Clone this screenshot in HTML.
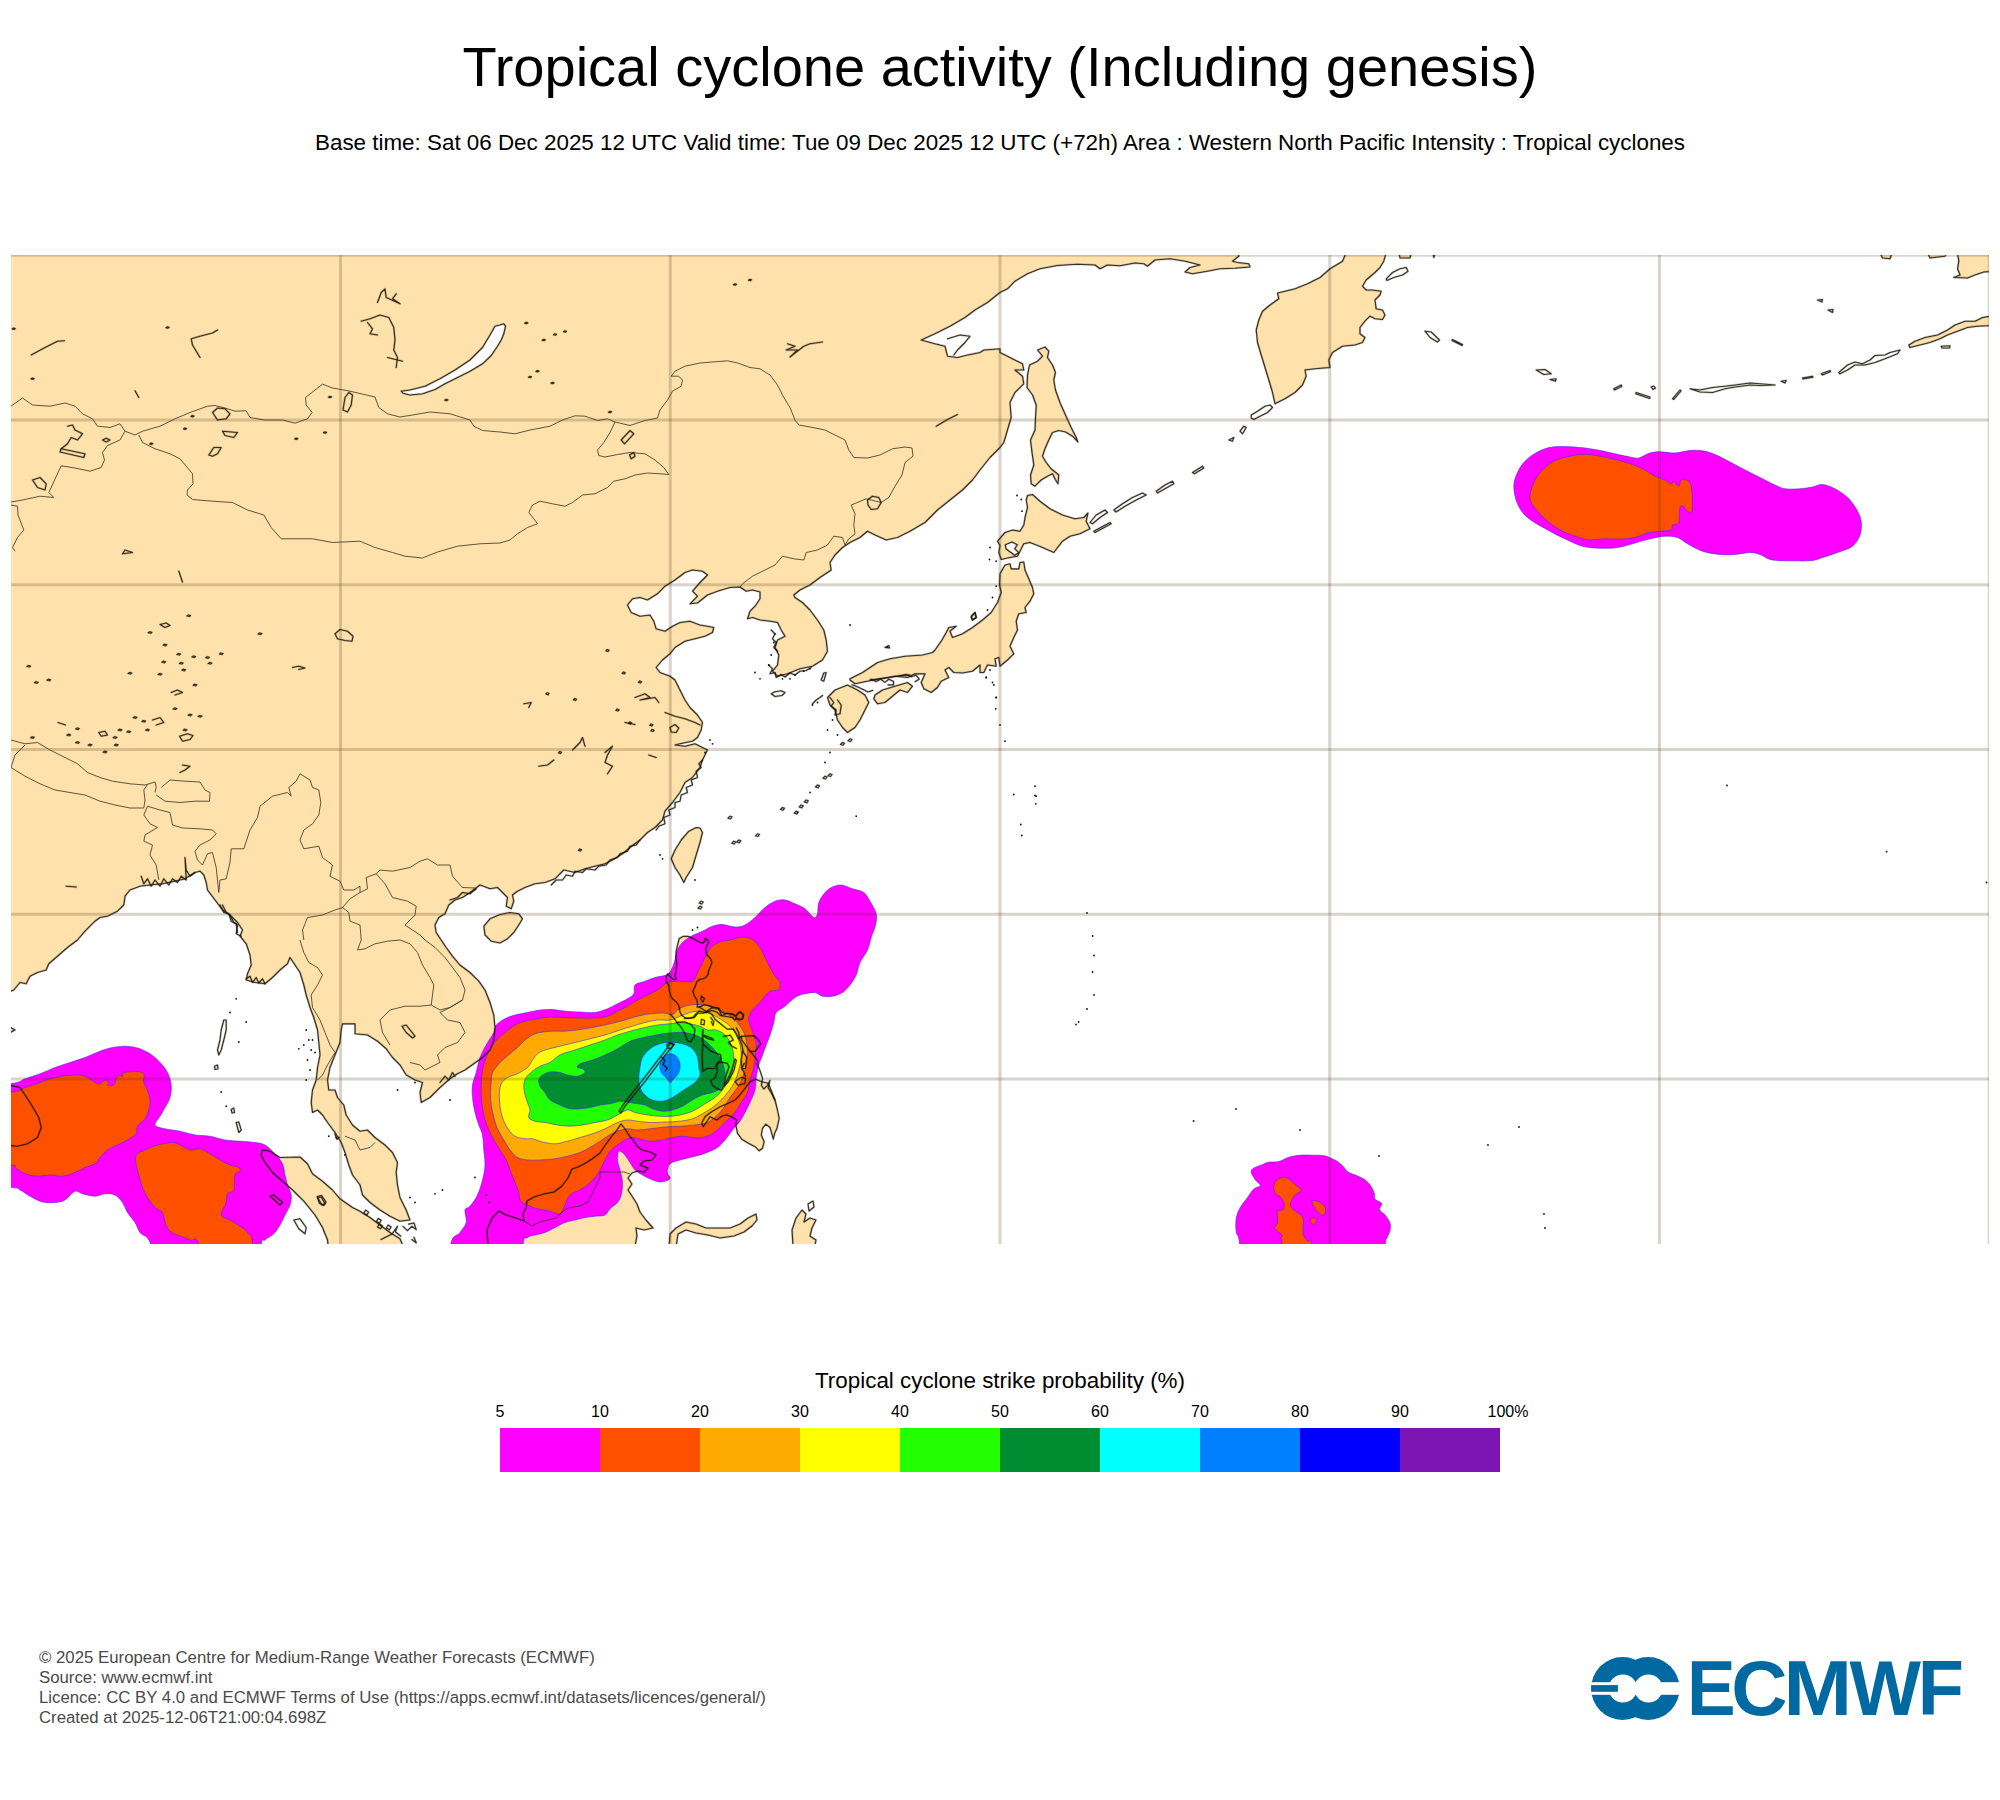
<!DOCTYPE html>
<html lang="en"><head><meta charset="utf-8"><title>Tropical cyclone activity (Including genesis)</title>
<style>
html,body{margin:0;padding:0;background:#fff}
body{width:2000px;height:1800px;overflow:hidden;font-family:"Liberation Sans",Arial,Helvetica,sans-serif}
svg{display:block}
text{font-family:"Liberation Sans",Arial,Helvetica,sans-serif}
</style></head><body>
<svg width="2000" height="1800" viewBox="0 0 2000 1800">
<rect width="2000" height="1800" fill="#fff"/>
<text x="1000" y="86" font-size="56" text-anchor="middle" fill="#000">Tropical cyclone activity (Including genesis)</text>
<text x="1000" y="150" font-size="22.4" text-anchor="middle" fill="#000">Base time: Sat 06 Dec 2025 12 UTC Valid time: Tue 09 Dec 2025 12 UTC (+72h) Area : Western North Pacific Intensity : Tropical cyclones</text>

<defs><clipPath id="mc"><rect x="11" y="255" width="1978" height="989"/></clipPath></defs>
<g clip-path="url(#mc)"><g>
<g fill="#fee1ab" stroke="none">
<path d="M-10 238 L1238.8 238 L1238.8 256.2 L1232.5 261.2 L1237.5 262.5 L1248.8 263.8 L1250 267 L1235 268.2 L1220 268.8 L1207.5 271.2 L1192.5 273.8 L1185 272 L1190 267.5 L1200 265 L1185 261.2 L1170 258.8 L1155 260 L1147.5 266.2 L1143.8 263.8 L1135 263 L1120 265.8 L1107.5 265 L1100 268.8 L1095 265 L1077.5 264.2 L1057.5 265.5 L1040 268.8 L1027.5 273.8 L1015 281.2 L1007.5 288.8 L1000 292.5 L987.5 302.5 L975 310 L965 317.5 L950 326.2 L935 333.8 L921.2 340 L935 343.8 L945 346.2 L947.5 356.2 L957.5 357.5 L967.5 355 L980 352.5 L983.8 350 L1000 348.8 L1000 352.5 L1010 357.5 L1022.5 363.8 L1023.8 370 L1015 370 L1022.5 376.2 L1023.8 383.8 L1015 392.5 L1010 402.5 L1011.2 417.5 L1007.5 430 L1003.8 442.5 L1000 447.5 L990 457.5 L980 470 L972.5 480 L962.5 490 L950 500 L937.5 510 L925 522.5 L910 531.2 L897.5 537.5 L886.2 540 L875 535 L867.5 531.2 L860 537.5 L850 542.5 L842.5 547.5 L835 555 L830 562.5 L831.2 570 L820 577.5 L810 585 L800 590 L793.8 595 L795 597.5 L802.5 602.5 L810 610 L817.5 620 L823.8 630 L826.2 640 L827.5 651.2 L822.5 660 L812.5 666.2 L800 668.8 L787.5 673.8 L777.5 676.2 L772.5 671.2 L777.5 665 L778.8 655 L775 647.5 L777.5 640 L785 636.2 L781.2 630 L777.5 622.5 L770 621.2 L760 620 L752.5 617.5 L747.5 618.8 L750 611.2 L755 606.2 L760 598.8 L760 592 L752.5 590 L746.2 591.2 L740 587 L730 587.5 L717.5 591.2 L707.5 595 L697.5 603 L690 603.8 L697.5 596.2 L692.5 591.2 L700 582.5 L707.5 575 L702.5 571.2 L692.5 570 L685 572.5 L675 580 L665 586.2 L657.5 593.8 L647.5 600 L640 597.5 L632.5 598.8 L627.5 605 L631.2 612.5 L640 616.2 L650 615 L653.8 621.2 L656.2 628.8 L665 631.2 L672.5 626.2 L680 622.5 L690 621.2 L700 625 L707.5 626.2 L713.8 627.5 L712.5 632.5 L705 636.2 L695 638.8 L685 641.2 L675 647.5 L670 653.8 L662.5 660 L656.2 667.5 L660 672.5 L670 676.2 L675 680 L680 690 L685 700 L690 707.5 L697.5 715 L702.5 722.5 L701.2 730 L697.5 737.5 L692.5 741.2 L680 743.8 L675 745 L685 746.2 L695 743.8 L702.5 747.5 L707.5 750 L702.5 760 L700 767.5 L692.5 777.5 L685 782.5 L680 792.5 L672.5 802.5 L665 811.2 L662.5 820 L655 827.5 L647.5 832.5 L640 840 L630 847.5 L622.5 853.8 L612.5 860 L605 863.8 L595 866.2 L585 868.8 L575 872.5 L563.8 870 L555 878.8 L545 882.5 L535 883.8 L525 887.5 L517.5 891.2 L512.5 895 L513.8 901.2 L511.2 908.8 L506.2 906.2 L507.5 897.5 L502.5 892.5 L497.5 887.5 L490 888.8 L480 885 L470 892.5 L462.5 897.5 L455 900 L448.8 905 L445 913.8 L438.8 917.5 L435 925 L436.2 932.5 L441.2 940 L446.2 947.5 L452.5 956.2 L460 965 L470 972.5 L478.8 981.2 L485 990 L490 1002.5 L493.8 1015 L495 1027.5 L493.8 1040 L490 1050 L482.5 1057.5 L473.8 1063.8 L465 1070 L457.5 1073.8 L450 1078.8 L440 1087.5 L430 1097.5 L421.2 1102.5 L420 1092.5 L422.5 1082.5 L415 1080 L406.2 1075 L400 1065 L392.5 1057.5 L386.2 1048.8 L377.5 1041.2 L367.5 1035 L355 1033.8 L355 1023.8 L342.5 1023.8 L341.2 1030 L340 1042.5 L335 1055 L330 1067.5 L327.5 1080 L328.8 1090 L335 1090 L337.5 1097.5 L343.8 1105 L346.2 1115 L352.5 1125 L360 1131.2 L367.5 1130 L375 1137.5 L385 1145 L392.5 1152.5 L397.5 1162.5 L396.2 1172.5 L397.5 1185 L400 1197.5 L406.2 1210 L410 1220 L400 1221.2 L390 1216.2 L380 1210 L370 1202.5 L362.5 1195 L360 1185 L352.5 1175 L348.8 1165 L345 1152.5 L341.2 1142.5 L335 1132.5 L327.5 1122.5 L322.5 1115 L317.5 1110 L312.5 1112.5 L311.2 1102.5 L312.5 1090 L316.2 1080 L317.5 1067.5 L320 1055 L318.8 1042.5 L317.5 1030 L313.8 1017.5 L310 1007.5 L306.2 995 L303.8 985 L300 972.5 L295 965 L290 957.5 L287.5 963.8 L280 970 L272.5 977.5 L265 983.8 L255 982.5 L246.2 980 L247.5 973.8 L251.2 965 L250 955 L246.2 943.8 L240 936.2 L242.5 930 L237.5 922.5 L230 915 L222.5 910 L215 900 L207.5 890 L206.2 882.5 L203.8 875 L200 871.2 L195 872.5 L185 878.8 L175 881.2 L162.5 883.8 L150 885 L140 886.2 L130 890 L125 896.2 L125 897.5 L123.8 905 L117.5 911.2 L107.5 916.2 L100 917.5 L95 921.2 L85 931.2 L77.5 940 L67.5 947.5 L57.5 956.2 L48.8 963.8 L46.2 970 L37.5 972.5 L30 976.2 L26.2 983.8 L20 982.5 L13.8 990 L-10 1000 L-10 1015 L15 1030 L-10 1042.5Z"/>
<path d="M1352.5 238 L1342.5 261.2 L1330 268.8 L1320 277.5 L1307.5 283.8 L1295 288.8 L1285 291.2 L1277.5 293 L1278.8 298.8 L1270 305 L1262.5 311.2 L1258.8 320 L1256.2 330 L1257.5 342.5 L1261.2 355 L1265 367.5 L1268.8 380 L1272.5 392.5 L1275 403.8 L1285 398.8 L1295 392.5 L1302.5 385 L1306.2 376.2 L1305 370 L1315 368.8 L1330 367.5 L1328.8 360 L1332.5 352.5 L1342.5 346.2 L1355 345 L1362.5 342.5 L1365 337.5 L1360 333.8 L1360 327.5 L1365 321.2 L1370 316.2 L1375 318.8 L1382.5 319.5 L1385 315 L1382.5 310 L1376.2 308.8 L1375 300 L1380 295 L1381.2 291.2 L1372.5 290 L1366.2 290 L1362.5 286.2 L1366.2 280 L1375 272.5 L1380 267.5 L1383.8 261.2 L1390 238Z"/>
<path d="M1396.2 238 L1400 258 L1410 258 L1415 238Z"/>
<path d="M1430 238 L1433.8 257.5 L1440 238Z"/>
<path d="M1037.5 350 L1045 347 L1048.8 351.2 L1047.5 357.5 L1052.5 365 L1055.5 372.5 L1053.8 380 L1055.5 390 L1060 402.5 L1065.5 415 L1071.2 427.5 L1076.2 437.5 L1078 442 L1072.5 436.2 L1065.5 432 L1058.8 430.5 L1052.5 432.5 L1048.8 440 L1045 448.8 L1042.5 456.2 L1046.2 462.5 L1051.2 468.8 L1058.8 475 L1058 483.8 L1055.5 480 L1052.5 473.8 L1047.5 476.2 L1041.2 480 L1035 486.2 L1031.2 483.8 L1030.5 475 L1033.8 465 L1032 452.5 L1030.5 440 L1035 430 L1035.5 417.5 L1036.2 405 L1032.5 395 L1027 387.5 L1027.5 375 L1029.5 365 L1037.5 361.2 L1042.5 356.2Z"/>
<path d="M1027.5 495.5 L1032.5 494.5 L1040 501.2 L1050 508.8 L1062.5 515 L1075 518.8 L1083.8 517.5 L1088 513 L1086.2 521.2 L1090 528.8 L1080 533.8 L1070 536.2 L1062.5 541.2 L1053.8 552.5 L1042.5 547.5 L1030 542.5 L1023.8 543.8 L1020 551.2 L1017.5 556.2 L1010 557.5 L1001.2 559.5 L998.8 552.5 L1000 545.5 L997.5 541.2 L1005 532.5 L1012.5 530 L1020 531.2 L1023.8 525 L1025 517.5 L1027.5 507.5 L1026.2 500Z"/>
<path d="M1005 565 L1010 563.8 L1011.2 568.8 L1018.8 568.8 L1020 562.5 L1023.8 562 L1025 570 L1028.8 578.8 L1032.5 587.5 L1033.8 593.8 L1030 601.2 L1025 607.5 L1026.2 612.5 L1018.8 613.8 L1016.2 621.2 L1017.5 630 L1013.8 637.5 L1010 646.2 L1013.8 653.8 L1007.5 660 L1000 666.2 L998.8 657.5 L995 658.8 L996.2 666.2 L987.5 665 L983.8 672.5 L980 672.5 L980 665 L972.5 671.2 L962.5 673 L953.8 672.5 L948.8 667.5 L945 670 L948.8 677.5 L941.2 681.2 L937.5 687.5 L931.2 692.5 L923.8 688.8 L921.2 682.5 L925 673.8 L915 673.8 L907.5 677.5 L895 676.2 L880 678.8 L867.5 681.2 L855 683.8 L850 680 L850 678.8 L862.5 672.5 L877.5 662.5 L890 658.8 L905 656.2 L922.5 655 L932.5 652.5 L935 650 L941.2 641.2 L946.2 632.5 L948.8 627.5 L956.2 626.2 L950 631.2 L952.5 637.5 L962.5 633.8 L972.5 627.5 L982.5 620 L991.2 612.5 L997.5 602.5 L1001.2 592.5 L999.5 585 L1000 573.8Z"/>
<path d="M827.5 697.5 L835 690 L847.5 685 L857.5 690 L865 695 L868.8 702.5 L865 710 L860 720 L855 727.5 L847.5 732.5 L842.5 727.5 L837.5 720 L835 710 L830 705Z"/>
<path d="M875 695 L882.5 690 L895 686.2 L907.5 682.5 L912.5 686.2 L907.5 692.5 L900 690 L892.5 696.2 L885 702.5 L877.5 703.8 L873.8 698.8Z"/>
<path d="M700 828 L702.5 832.5 L700 842.5 L696.2 855 L692.5 867.5 L686.2 877.5 L683.8 882.5 L680 875 L675 867.5 L671.2 858.8 L675 850 L681.2 840 L688.8 831.2 L696.2 827.5Z"/>
<path d="M483.8 926.2 L490 918.8 L500 914.5 L510 912.5 L518.8 913.8 L522.5 918.8 L518.8 925 L513.8 932.5 L507.5 938.8 L500 943 L491.2 941.2 L485 935Z"/>
<path d="M262.5 1150 L270 1151.2 L280 1157.5 L300 1157 L307.5 1163.8 L312.5 1173.8 L322.5 1181.2 L332.5 1190 L340 1198.8 L352.5 1207.5 L360 1211.2 L370 1217.5 L380 1225 L390 1232.5 L400 1238.8 L410 1262 L330 1262 L327.5 1240 L322.5 1227.5 L315 1215 L303.8 1201.2 L292.5 1190 L282.5 1181.2 L272.5 1172.5 L265 1162.5 L261.2 1155Z"/>
<path d="M-10 1081.2 L20 1087.5 L30 1102.5 L38.8 1117.5 L41.2 1127.5 L37.5 1137.5 L27.5 1143.8 L17.5 1146.2 L-10 1143.8Z"/>
<path d="M1872.5 238 L1882.5 258 L1890 258.8 L1897.5 238Z"/>
<path d="M1920 238 L1930 258 L1945 256.2 L1955 238 L1958.8 261.2 L1957.5 268.8 L1960 275 L1953.8 277.5 L1967.5 278 L1975 275 L1983.8 272 L2010 270 L2010 238Z"/>
<path d="M2010 312.5 L1982.5 317.5 L1975 321.2 L1965 321.2 L1955 325 L1947.5 330 L1937.5 335 L1925 337.5 L1915 341.2 L1908.8 345 L1910 347.5 L1920 345 L1930 342.5 L1940 338.8 L1947.5 335 L1957.5 331.2 L1967.5 327.5 L1977.5 326.2 L2010 325Z"/>
<path d="M489 1262 L487 1230 L492 1218 L499 1211 L506 1215 L516 1218 L524 1221 L523 1214 L526 1208 L527 1201 L534 1197 L544 1194 L554 1192 L562 1186 L568 1178 L572 1169 L578 1167 L584 1164 L592 1159 L600 1153 L606 1144 L612 1136 L617 1130 L621 1124 L625 1129 L628 1134 L633 1140 L637 1146 L642 1150 L650 1152 L656 1155 L652 1160 L644 1161 L640 1165 L648 1168 L644 1172 L638 1171 L632 1173 L628 1178 L632 1184 L628 1190 L632 1196 L637 1204 L640 1212 L646 1220 L653 1228 L644 1230 L636 1228 L637 1236 L632 1262Z"/>
<path d="M668 1262 L670 1234 L676 1228 L686 1222 L696 1224 L706 1228 L720 1228 L730 1228 L740 1224 L748 1218 L756 1214 L757 1220 L752 1226 L744 1232 L734 1236 L720 1238 L708 1235 L696 1233 L686 1230 L678 1234 L674 1262Z"/>
<path d="M794 1262 L792 1230 L796 1218 L802 1210 L806 1214 L804 1222 L810 1218 L816 1220 L812 1228 L810 1236 L816 1240 L812 1262Z"/>
<path d="M679.2 938.4 L683.2 936.4 L688 936.4 L692.8 938.4 L697.6 941.2 L702.4 943.2 L705.6 940.8 L704.8 938.4 L708 940 L708.8 942.4 L706.4 946.4 L705.6 951.2 L707.2 955.2 L710.4 958.4 L712 962.4 L710.4 966.4 L708.8 970.4 L708 974.4 L705.6 977.6 L703.2 978.8 L700 979.2 L696.8 981.6 L695.2 986.4 L692.8 991.2 L694.4 996 L696.8 1000 L697.6 1004 L697.2 1007.2 L700.8 1006.4 L704 1004.8 L708.8 1005.6 L713.6 1007.2 L718.4 1008 L721.6 1012 L724.8 1013.6 L728.8 1013.6 L732.8 1014.4 L736 1016 L738.4 1012.8 L740.8 1012 L743.2 1015.2 L742.4 1019.2 L739.2 1020 L736.8 1018.4 L734.4 1020 L732.8 1017.6 L728 1016.8 L723.2 1016 L720 1015.2 L716.8 1012 L712 1010.4 L708.8 1011.2 L706.4 1012.8 L702.4 1012 L699.2 1011.2 L696 1013.6 L692.8 1017.6 L688 1018.4 L684.8 1017.6 L681.6 1015.2 L680 1012 L679.2 1007.2 L678.4 1004.8 L676 1001.6 L672.8 999.2 L670.8 996 L669.2 990.4 L668.8 985.6 L666.4 981.6 L666 976.8 L668 973.6 L669.6 976 L672.8 979.2 L676 979.2 L675.2 975.2 L676 970.4 L676.8 964 L676 957.6 L676 952 L677.6 944.8Z"/>
<path d="M670.8 1043.2 L674.5 1044.2 L666.2 1053.8 L657.5 1065 L646.2 1080 L635 1093.8 L625 1106.2 L620.8 1113 L619.2 1110.8 L623.8 1103.8 L633 1092 L644.2 1078 L655.5 1063.2 L664.2 1052Z"/>
<path d="M755.8 1079.2 L761.7 1081.7 L768.3 1083.3 L771.7 1091.7 L775 1100 L777.5 1110 L779.2 1118.3 L777 1128.3 L774.7 1133.3 L773.3 1139.2 L771.7 1133.3 L770 1127.5 L765.8 1124.2 L762.5 1128.3 L761.3 1135 L764.2 1141.7 L762.5 1148.3 L759.2 1150.8 L755 1146.7 L748.3 1143.3 L741.7 1139.2 L737.5 1133.3 L735.8 1125 L736.7 1120 L731.7 1116.7 L726.7 1115 L722.5 1115.8 L716.7 1120 L710 1116.7 L706.7 1121.7 L703.3 1126.7 L701.7 1123.3 L705 1116.7 L711.7 1111.7 L720 1106.7 L728.3 1103.3 L735 1100 L740 1095 L745 1088.3 L750 1081.7Z"/>
</g>
<g fill="#ffffff" stroke="none">
<path d="M401.2 391.2 L410 390 L425 386.2 L440 378.8 L455 370 L470 360 L482.5 347.5 L490 335 L495 326.2 L500 325 L503.8 323.8 L505.5 326.2 L503.8 333.8 L501.2 340 L497.5 346.2 L491.2 355.5 L482.5 363.8 L470 371.2 L457.5 377.5 L445 383.8 L435 389.5 L422.5 393.8 L410 395 L403 393.2Z"/>
<path d="M1005.3 544.7 L1012 542 L1017.3 544.7 L1014.7 548.7 L1018.7 552.7 L1014.7 555.3 L1009.3 551.3 L1006 548.7Z"/>
</g>
<g stroke="#4a20ff" stroke-opacity="0.6" stroke-width="1" stroke-linejoin="round">
<path d="M1513.8 486.2 C1513.8 481.0 1515.6 476.7 1517.5 472.5 C1519.4 468.3 1521.7 464.6 1525 461.2 C1528.3 457.8 1532.9 454.4 1537.5 452 C1542.1 449.6 1546.2 447.8 1552.5 447 C1558.8 446.2 1567.9 446.6 1575 447 C1582.1 447.4 1588.3 448.4 1595 449.5 C1601.7 450.6 1609.2 452.6 1615 453.8 C1620.8 455.1 1626.0 456.3 1630 457 C1634.0 457.7 1635.5 458.7 1638.8 458 C1642.1 457.3 1646.5 454.0 1650 453 C1653.5 452.0 1655.8 451.8 1660 451.8 C1664.2 451.8 1670.0 453.2 1675 453 C1680.0 452.8 1685.4 450.9 1690 450.5 C1694.6 450.1 1698.3 450.1 1702.5 450.8 C1706.7 451.5 1710.4 452.6 1715 454.5 C1719.6 456.4 1725.0 459.4 1730 462 C1735.0 464.6 1740.0 467.4 1745 470 C1750.0 472.6 1755.0 475.0 1760 477.5 C1765.0 480.0 1770.8 483.1 1775 485 C1779.2 486.9 1780.8 488.2 1785 488.8 C1789.2 489.4 1795.4 489.1 1800 488.8 C1804.6 488.5 1808.8 487.7 1812.5 487 C1816.2 486.3 1818.8 484.2 1822.5 484.5 C1826.2 484.8 1830.8 486.6 1835 488.8 C1839.2 491.0 1844.0 494.2 1847.5 497.5 C1851.0 500.8 1853.9 504.9 1856.2 508.8 C1858.5 512.8 1860.6 516.8 1861.2 521.2 C1861.8 525.6 1861.5 530.8 1860 535 C1858.5 539.2 1856.2 543.3 1852.5 546.2 C1848.8 549.1 1842.5 550.6 1837.5 552.5 C1832.5 554.4 1826.7 556.2 1822.5 557.5 C1818.3 558.8 1817.1 560.0 1812.5 560.5 C1807.9 561.0 1801.7 560.9 1795 560.8 C1788.3 560.7 1778.3 561.0 1772.5 560 C1766.7 559.0 1763.8 555.8 1760 554.5 C1756.2 553.2 1754.2 552.5 1750 552.5 C1745.8 552.5 1740.0 554.2 1735 554.5 C1730.0 554.8 1725.4 555.0 1720 554.5 C1714.6 554.0 1707.9 553.0 1702.5 551.2 C1697.1 549.4 1691.7 546.1 1687.5 543.8 C1683.3 541.5 1681.2 538.8 1677.5 537.5 C1673.8 536.2 1669.6 536.0 1665 536.2 C1660.4 536.4 1655.0 537.7 1650 538.8 C1645.0 539.9 1640.4 541.5 1635 543 C1629.6 544.5 1623.3 546.6 1617.5 547.5 C1611.7 548.4 1605.8 548.4 1600 548.2 C1594.2 548.0 1587.9 547.6 1582.5 546.2 C1577.1 544.8 1572.9 542.5 1567.5 540 C1562.1 537.5 1556.7 535.0 1550 531.2 C1543.3 527.5 1532.9 522.1 1527.5 517.5 C1522.1 512.9 1519.8 509.0 1517.5 503.8 C1515.2 498.6 1513.8 491.4 1513.8 486.2Z" fill="#ff00ff"/>
<path d="M1530 495 C1530.4 491.7 1531.9 486.5 1533.8 482.5 C1535.7 478.5 1537.9 474.8 1541.2 471.2 C1544.5 467.6 1549.0 463.7 1553.8 461.2 C1558.6 458.7 1564.8 457.4 1570 456.2 C1575.2 455.0 1580.0 454.2 1585 454.2 C1590.0 454.2 1594.6 455.2 1600 456.2 C1605.4 457.2 1612.1 458.6 1617.5 460 C1622.9 461.4 1627.9 462.8 1632.5 464.5 C1637.1 466.2 1641.2 468.1 1645 470 C1648.8 471.9 1651.7 474.5 1655 476.2 C1658.3 477.9 1662.3 478.7 1665 480 C1667.7 481.3 1669.7 483.6 1671.2 483.8 C1672.7 484.0 1672.5 480.8 1673.8 481.2 C1675.1 481.6 1677.6 486.4 1678.8 486.2 C1680.0 486.0 1680.0 481.0 1681.2 480 C1682.4 479.0 1684.5 479.0 1686.2 480 C1687.9 481.0 1690.2 481.0 1691.2 486.2 C1692.2 491.4 1692.8 507.2 1692 511.2 C1691.2 515.2 1687.6 510.8 1686.2 510 C1684.8 509.2 1684.8 506.6 1683.8 506.2 C1682.8 505.8 1680.8 504.8 1680 507.5 C1679.2 510.2 1680.0 519.6 1678.8 522.5 C1677.5 525.4 1673.8 523.8 1672.5 525 C1671.2 526.2 1673.3 529.0 1671.2 530 C1669.1 531.0 1664.0 530.7 1660 531.2 C1656.0 531.7 1651.7 532.0 1647.5 533 C1643.3 534.0 1639.6 536.5 1635 537.5 C1630.4 538.5 1625.0 539.0 1620 539.2 C1615.0 539.4 1610.0 538.7 1605 538.8 C1600.0 538.9 1595.0 540.4 1590 540 C1585.0 539.6 1580.0 537.9 1575 536.2 C1570.0 534.5 1564.6 532.5 1560 530 C1555.4 527.5 1551.2 524.3 1547.5 521.2 C1543.8 518.1 1540.2 514.3 1537.5 511.2 C1534.8 508.1 1532.5 505.2 1531.2 502.5 C1530.0 499.8 1529.6 498.3 1530 495Z" fill="#ff5000"/>
<path d="M-50 1097.5 C-50.0 1081.2 -60.0 1089.8 -50 1087.5 C-40.0 1085.2 -2.5 1085.2 10 1083.8 C22.5 1082.3 20.0 1080.5 25 1078.8 C30.0 1077.1 35.0 1075.7 40 1073.8 C45.0 1071.9 50.0 1069.4 55 1067.5 C60.0 1065.6 65.0 1064.2 70 1062.5 C75.0 1060.8 80.0 1059.4 85 1057.5 C90.0 1055.6 95.4 1052.9 100 1051.2 C104.6 1049.5 108.3 1048.3 112.5 1047.5 C116.7 1046.7 120.8 1046.1 125 1046.2 C129.2 1046.3 133.3 1046.7 137.5 1048 C141.7 1049.3 146.2 1051.4 150 1053.8 C153.8 1056.2 157.1 1059.4 160 1062.5 C162.9 1065.6 165.6 1068.8 167.5 1072.5 C169.4 1076.2 170.8 1080.8 171.2 1085 C171.6 1089.2 171.0 1093.8 170 1097.5 C169.0 1101.2 166.7 1104.4 165 1107.5 C163.3 1110.6 161.7 1113.3 160 1116.2 C158.3 1119.1 154.2 1122.9 155 1125 C155.8 1127.1 160.8 1127.8 165 1128.8 C169.2 1129.8 175.0 1130.2 180 1131.2 C185.0 1132.2 190.0 1134.2 195 1135 C200.0 1135.8 205.0 1135.4 210 1136.2 C215.0 1137.0 220.0 1139.2 225 1140 C230.0 1140.8 235.0 1140.8 240 1141.2 C245.0 1141.6 250.8 1141.9 255 1142.5 C259.2 1143.1 261.7 1143.1 265 1145 C268.3 1146.9 272.1 1150.7 275 1153.8 C277.9 1156.9 280.8 1160.3 282.5 1163.8 C284.2 1167.3 284.2 1171.5 285 1175 C285.8 1178.5 286.5 1181.7 287.5 1185 C288.5 1188.3 290.8 1191.7 291.2 1195 C291.6 1198.3 291.0 1201.7 290 1205 C289.0 1208.3 286.7 1211.7 285 1215 C283.3 1218.3 281.9 1221.9 280 1225 C278.1 1228.1 276.3 1231.3 273.8 1233.8 C271.3 1236.3 267.1 1237.7 265 1240 C262.9 1242.3 262.0 1235.0 261.2 1247.5 C260.4 1260.0 278.1 1303.8 260 1315 C241.9 1326.2 170.6 1326.2 152.5 1315 C134.4 1303.8 153.3 1261.2 151.2 1247.5 C149.1 1233.8 142.7 1236.7 140 1232.5 C137.3 1228.3 137.1 1225.8 135 1222.5 C132.9 1219.2 129.6 1215.8 127.5 1212.5 C125.4 1209.2 124.6 1205.4 122.5 1202.5 C120.4 1199.6 117.9 1196.5 115 1195 C112.1 1193.5 108.3 1193.6 105 1193.8 C101.7 1194.0 98.8 1196.2 95 1196.2 C91.2 1196.2 85.8 1194.6 82.5 1193.8 C79.2 1193.0 77.9 1190.2 75 1191.2 C72.1 1192.2 68.3 1198.1 65 1200 C61.7 1201.9 58.8 1202.2 55 1202.5 C51.2 1202.8 46.7 1203.0 42.5 1202 C38.3 1201.0 33.8 1198.2 30 1196.2 C26.2 1194.2 23.3 1191.5 20 1190 C16.7 1188.5 21.7 1188.3 10 1187.5 C-1.7 1186.7 -40.0 1200.0 -50 1185 C-60.0 1170.0 -50.0 1113.8 -50 1097.5Z" fill="#ff00ff"/>
<path d="M-50 1105 C-50.0 1094.2 -60.0 1099.6 -50 1097.5 C-40.0 1095.4 -2.5 1094.2 10 1092.5 C22.5 1090.8 20.0 1089.2 25 1087.5 C30.0 1085.8 35.8 1084.0 40 1082.5 C44.2 1081.0 46.2 1079.8 50 1078.8 C53.8 1077.8 58.3 1076.8 62.5 1076.2 C66.7 1075.6 71.2 1075.0 75 1075 C78.8 1075.0 81.7 1075.0 85 1076.2 C88.3 1077.5 92.5 1081.2 95 1082.5 C97.5 1083.8 98.3 1084.2 100 1083.8 C101.7 1083.4 103.5 1080.2 105 1080 C106.5 1079.8 108.4 1081.7 108.8 1082.5 C109.2 1083.3 106.7 1084.6 107.5 1085 C108.3 1085.4 112.1 1086.5 113.8 1085 C115.5 1083.5 116.0 1077.7 117.5 1076.2 C119.0 1074.7 121.5 1076.8 122.5 1076.2 C123.5 1075.6 120.5 1073.1 123.8 1072.5 C127.1 1071.9 139.2 1070.8 142.5 1072.5 C145.8 1074.2 143.0 1079.6 143.8 1082.5 C144.6 1085.4 146.5 1087.1 147.5 1090 C148.5 1092.9 149.8 1096.7 150 1100 C150.2 1103.3 149.6 1106.9 148.8 1110 C148.0 1113.1 146.9 1116.1 145 1118.8 C143.1 1121.5 139.0 1123.7 137.5 1126.2 C136.0 1128.7 137.9 1131.5 136.2 1133.8 C134.5 1136.1 130.6 1138.1 127.5 1140 C124.4 1141.9 120.8 1143.3 117.5 1145 C114.2 1146.7 110.4 1147.9 107.5 1150 C104.6 1152.1 102.1 1155.2 100 1157.5 C97.9 1159.8 97.5 1162.1 95 1163.8 C92.5 1165.5 88.3 1166.0 85 1167.5 C81.7 1169.0 78.8 1171.0 75 1172.5 C71.2 1174.0 66.7 1175.8 62.5 1176.2 C58.3 1176.6 54.2 1175.0 50 1175 C45.8 1175.0 41.7 1176.4 37.5 1176.2 C33.3 1176.0 28.8 1175.2 25 1173.8 C21.2 1172.3 17.5 1169.0 15 1167.5 C12.5 1166.0 20.8 1165.8 10 1165 C-0.8 1164.2 -40.0 1172.5 -50 1162.5 C-60.0 1152.5 -50.0 1115.8 -50 1105Z" fill="#ff5000"/>
<path d="M136.2 1155 C137.7 1152.5 141.4 1151.7 145 1150 C148.6 1148.3 152.9 1146.2 157.5 1145 C162.1 1143.8 168.8 1142.5 172.5 1142.5 C176.2 1142.5 177.1 1143.8 180 1145 C182.9 1146.2 186.7 1149.4 190 1150 C193.3 1150.6 196.7 1148.2 200 1148.8 C203.3 1149.4 206.7 1151.9 210 1153.8 C213.3 1155.7 216.7 1158.1 220 1160 C223.3 1161.9 226.9 1163.8 230 1165 C233.1 1166.2 237.1 1166.5 238.8 1167.5 C240.5 1168.5 240.6 1170.0 240 1171.2 C239.4 1172.5 236.0 1171.9 235 1175 C234.0 1178.1 235.1 1186.9 233.8 1190 C232.6 1193.1 228.8 1191.7 227.5 1193.8 C226.2 1195.9 227.2 1199.0 226.2 1202.5 C225.1 1206.0 220.6 1212.1 221.2 1215 C221.8 1217.9 226.9 1218.1 230 1220 C233.1 1221.9 237.1 1224.1 240 1226.2 C242.9 1228.3 245.3 1229.2 247.5 1232.5 C249.7 1235.8 251.8 1232.5 253 1246.2 C254.2 1260.0 264.2 1303.5 255 1315 C245.8 1326.5 206.9 1326.5 197.5 1315 C188.1 1303.5 200.1 1258.7 198.8 1246.2 C197.6 1233.7 193.1 1241.7 190 1240 C186.9 1238.3 183.3 1237.7 180 1236.2 C176.7 1234.7 172.5 1233.5 170 1231.2 C167.5 1228.9 166.2 1225.6 165 1222.5 C163.8 1219.4 164.2 1215.0 162.5 1212.5 C160.8 1210.0 157.5 1210.0 155 1207.5 C152.5 1205.0 149.6 1200.8 147.5 1197.5 C145.4 1194.2 143.9 1191.2 142.5 1187.5 C141.1 1183.8 139.9 1178.8 138.8 1175 C137.8 1171.2 136.6 1168.3 136.2 1165 C135.8 1161.7 134.7 1157.5 136.2 1155Z" fill="#ff5000"/>
<path d="M841.2 885 C844.5 885.3 848.7 887.5 852.5 888.8 C856.3 890.0 860.9 890.4 863.8 892.5 C866.7 894.6 867.9 897.7 870 901.2 C872.1 904.8 875.3 909.8 876.2 913.8 C877.1 917.8 876.3 921.0 875.5 925 C874.7 929.0 872.5 933.3 871.2 937.5 C869.9 941.7 869.4 945.8 867.5 950 C865.6 954.2 861.9 958.3 860 962.5 C858.1 966.7 857.9 971.2 856.2 975 C854.5 978.8 852.3 982.1 850 985 C847.7 987.9 845.4 990.6 842.5 992.5 C839.6 994.4 835.8 995.6 832.5 996.2 C829.2 996.8 825.4 996.8 822.5 996.2 C819.6 995.6 817.9 992.9 815 992.5 C812.1 992.1 808.3 993.0 805 993.8 C801.7 994.6 798.3 995.4 795 997.5 C791.7 999.6 788.1 1003.7 785 1006.2 C781.9 1008.7 778.1 1009.8 776.2 1012.5 C774.3 1015.2 774.8 1018.8 773.8 1022.5 C772.8 1026.2 771.3 1031.2 770 1035 C768.7 1038.8 767.5 1041.7 766.2 1045 C765.0 1048.3 763.7 1051.7 762.5 1055 C761.3 1058.3 759.8 1061.2 758.8 1065 C757.8 1068.8 756.8 1073.3 756.2 1077.5 C755.6 1081.7 756.0 1085.8 755 1090 C754.0 1094.2 751.7 1098.8 750 1102.5 C748.3 1106.2 746.7 1109.4 745 1112.5 C743.3 1115.6 742.1 1118.3 740 1121.2 C737.9 1124.1 735.0 1126.9 732.5 1130 C730.0 1133.1 727.5 1137.1 725 1140 C722.5 1142.9 720.0 1145.6 717.5 1147.5 C715.0 1149.4 712.9 1150.0 710 1151.2 C707.1 1152.5 703.3 1154.0 700 1155 C696.7 1156.0 693.3 1156.7 690 1157.5 C686.7 1158.3 683.3 1159.0 680 1160 C676.7 1161.0 672.1 1161.7 670 1163.8 C667.9 1165.9 667.5 1170.0 667.5 1172.5 C667.5 1175.0 671.2 1177.2 670 1178.8 C668.8 1180.4 663.3 1182.0 660 1182 C656.7 1182.0 652.9 1180.0 650 1178.8 C647.1 1177.6 645.0 1176.5 642.5 1175 C640.0 1173.5 637.1 1172.1 635 1170 C632.9 1167.9 631.9 1165.2 630 1162.5 C628.1 1159.8 625.7 1155.7 623.8 1153.8 C621.9 1151.9 619.8 1150.2 618.8 1151.2 C617.8 1152.2 617.3 1156.9 617.5 1160 C617.7 1163.1 619.2 1166.2 620 1170 C620.8 1173.8 622.3 1178.3 622.5 1182.5 C622.7 1186.7 622.0 1191.7 621.2 1195 C620.4 1198.3 619.4 1200.2 617.5 1202.5 C615.6 1204.8 612.1 1206.7 610 1208.8 C607.9 1210.9 607.5 1213.8 605 1215 C602.5 1216.2 598.3 1215.8 595 1216.2 C591.7 1216.6 588.3 1216.9 585 1217.5 C581.7 1218.1 578.3 1219.2 575 1220 C571.7 1220.8 568.3 1221.2 565 1222.5 C561.7 1223.8 558.3 1225.8 555 1227.5 C551.7 1229.2 548.3 1231.2 545 1232.5 C541.7 1233.8 537.9 1234.2 535 1235 C532.1 1235.8 529.5 1235.6 527.5 1237.5 C525.5 1239.4 523.8 1234.1 523 1246.2 C522.2 1258.3 534.7 1299.4 522.5 1310 C510.3 1320.6 462.0 1320.6 450 1310 C438.0 1299.4 448.8 1259.1 450.5 1246.2 C452.2 1233.3 457.4 1236.5 460 1232.5 C462.6 1228.5 465.4 1226.2 466.2 1222.5 C467.0 1218.8 464.4 1212.7 465 1210 C465.6 1207.3 467.9 1208.7 470 1206.2 C472.1 1203.7 475.4 1199.4 477.5 1195 C479.6 1190.6 481.2 1185.0 482.5 1180 C483.8 1175.0 484.8 1170.0 485 1165 C485.2 1160.0 484.2 1155.0 483.8 1150 C483.4 1145.0 483.3 1139.2 482.5 1135 C481.7 1130.8 480.1 1128.8 478.8 1125 C477.6 1121.2 476.1 1117.1 475 1112.5 C473.9 1107.9 472.9 1102.1 472.5 1097.5 C472.1 1092.9 471.9 1089.2 472.5 1085 C473.1 1080.8 474.9 1077.1 476.2 1072.5 C477.4 1067.9 478.3 1062.1 480 1057.5 C481.7 1052.9 483.9 1049.2 486.2 1045 C488.5 1040.8 492.1 1035.8 493.8 1032.5 C495.5 1029.2 494.3 1027.3 496.2 1025 C498.1 1022.7 501.9 1020.5 505 1018.8 C508.1 1017.1 511.2 1016.0 515 1015 C518.8 1014.0 523.3 1013.3 527.5 1012.5 C531.7 1011.7 535.8 1010.5 540 1010 C544.2 1009.5 548.3 1009.3 552.5 1009.5 C556.7 1009.7 560.4 1010.8 565 1011.2 C569.6 1011.6 575.0 1011.8 580 1012 C585.0 1012.2 590.4 1013.0 595 1012.5 C599.6 1012.0 603.8 1010.2 607.5 1008.8 C611.2 1007.3 614.2 1005.5 617.5 1003.8 C620.8 1002.1 624.8 1000.5 627.5 998.8 C630.2 997.1 632.5 996.1 633.8 993.8 C635.0 991.5 633.1 987.1 635 985 C636.9 982.9 641.7 982.5 645 981.2 C648.3 980.0 651.5 978.5 655 977.5 C658.5 976.5 663.5 976.2 666.2 975 C668.9 973.8 669.7 972.5 671.2 970 C672.7 967.5 674.0 963.3 675 960 C676.0 956.7 676.2 952.9 677.5 950 C678.8 947.1 680.2 944.8 682.5 942.5 C684.8 940.2 687.9 938.1 691.2 936.2 C694.5 934.3 699.0 932.9 702.5 931.2 C706.0 929.5 709.2 927.3 712.5 926.2 C715.8 925.1 718.8 924.4 722.5 924.5 C726.2 924.6 731.2 926.9 735 927 C738.8 927.1 741.7 926.6 745 925 C748.3 923.4 751.7 920.4 755 917.5 C758.3 914.6 761.7 910.2 765 907.5 C768.3 904.8 771.7 902.5 775 901.2 C778.3 900.0 781.7 899.6 785 900 C788.3 900.4 791.7 902.3 795 903.8 C798.3 905.3 801.9 906.5 805 908.8 C808.1 911.1 811.7 916.7 813.8 917.5 C815.9 918.3 816.7 916.3 817.5 913.8 C818.3 911.3 817.5 906.0 818.8 902.5 C820.0 899.0 822.7 895.1 825 892.5 C827.3 889.9 829.8 888.2 832.5 887 C835.2 885.8 837.9 884.7 841.2 885Z" fill="#ff00ff"/>
<path d="M730 940 C733.3 939.3 738.8 937.1 742.5 937 C746.2 936.9 749.6 937.8 752.5 939.5 C755.4 941.2 757.9 944.5 760 947.5 C762.1 950.5 763.3 954.2 765 957.5 C766.7 960.8 768.1 964.2 770 967.5 C771.9 970.8 774.5 975.0 776.2 977.5 C777.9 980.0 779.6 980.4 780 982.5 C780.4 984.6 780.5 988.5 778.8 990 C777.1 991.5 772.3 990.2 770 991.2 C767.7 992.2 766.7 994.3 765 996.2 C763.3 998.1 762.1 1000.2 760 1002.5 C757.9 1004.8 754.4 1007.5 752.5 1010 C750.6 1012.5 749.2 1015.0 748.8 1017.5 C748.4 1020.0 749.2 1022.1 750 1025 C750.8 1027.9 752.8 1031.7 753.8 1035 C754.8 1038.3 756.0 1041.2 756.2 1045 C756.4 1048.8 755.4 1053.8 755 1057.5 C754.6 1061.2 754.6 1063.8 753.8 1067.5 C753.0 1071.2 751.0 1075.8 750 1080 C749.0 1084.2 749.0 1088.8 747.5 1092.5 C746.0 1096.2 743.3 1099.2 741.2 1102.5 C739.1 1105.8 737.3 1109.6 735 1112.5 C732.7 1115.4 730.0 1117.5 727.5 1120 C725.0 1122.5 722.5 1125.2 720 1127.5 C717.5 1129.8 715.4 1132.1 712.5 1133.8 C709.6 1135.5 705.8 1136.9 702.5 1137.5 C699.2 1138.1 695.8 1137.7 692.5 1137.5 C689.2 1137.3 685.8 1136.2 682.5 1136.2 C679.2 1136.2 675.8 1136.9 672.5 1137.5 C669.2 1138.1 665.8 1139.4 662.5 1140 C659.2 1140.6 655.8 1141.2 652.5 1141.2 C649.2 1141.2 645.8 1140.6 642.5 1140 C639.2 1139.4 635.4 1137.5 632.5 1137.5 C629.6 1137.5 627.5 1138.8 625 1140 C622.5 1141.2 620.0 1143.1 617.5 1145 C615.0 1146.9 612.1 1148.7 610 1151.2 C607.9 1153.7 606.7 1156.9 605 1160 C603.3 1163.1 601.7 1167.1 600 1170 C598.3 1172.9 597.1 1175.0 595 1177.5 C592.9 1180.0 590.0 1182.9 587.5 1185 C585.0 1187.1 582.9 1188.3 580 1190 C577.1 1191.7 572.5 1192.5 570 1195 C567.5 1197.5 566.7 1201.9 565 1205 C563.3 1208.1 562.5 1212.8 560 1213.8 C557.5 1214.8 553.8 1212.0 550 1211.2 C546.2 1210.4 540.8 1209.6 537.5 1208.8 C534.2 1208.0 532.1 1207.0 530 1206.2 C527.9 1205.4 526.7 1204.8 525 1203.8 C523.3 1202.8 521.0 1201.9 520 1200 C519.0 1198.1 519.6 1195.4 518.8 1192.5 C518.0 1189.6 516.5 1186.2 515 1182.5 C513.5 1178.8 511.5 1173.8 510 1170 C508.5 1166.2 507.9 1163.3 506.2 1160 C504.5 1156.7 502.1 1153.3 500 1150 C497.9 1146.7 495.7 1143.3 493.8 1140 C491.9 1136.7 490.3 1133.3 488.8 1130 C487.3 1126.7 486.1 1123.8 485 1120 C483.9 1116.2 483.1 1111.7 482.5 1107.5 C481.9 1103.3 481.4 1099.2 481.2 1095 C481.0 1090.8 481.0 1086.7 481.2 1082.5 C481.4 1078.3 481.7 1074.2 482.5 1070 C483.3 1065.8 484.8 1061.2 486.2 1057.5 C487.6 1053.8 489.3 1050.6 491.2 1047.5 C493.1 1044.4 495.2 1041.3 497.5 1038.8 C499.8 1036.3 502.1 1034.8 505 1032.5 C507.9 1030.2 511.7 1026.9 515 1025 C518.3 1023.1 521.2 1022.2 525 1021.2 C528.8 1020.2 533.3 1019.5 537.5 1018.8 C541.7 1018.1 545.4 1017.2 550 1017 C554.6 1016.8 560.0 1017.3 565 1017.5 C570.0 1017.7 575.0 1017.9 580 1018 C585.0 1018.1 590.4 1018.3 595 1018 C599.6 1017.7 603.8 1017.3 607.5 1016.2 C611.2 1015.1 614.2 1012.9 617.5 1011.2 C620.8 1009.5 624.2 1008.1 627.5 1006.2 C630.8 1004.3 634.2 1001.9 637.5 1000 C640.8 998.1 644.2 996.7 647.5 995 C650.8 993.3 654.2 992.1 657.5 990 C660.8 987.9 663.8 984.0 667.5 982.5 C671.2 981.0 675.8 981.4 680 981.2 C684.2 981.0 689.6 982.7 692.5 981.2 C695.4 979.8 695.8 975.6 697.5 972.5 C699.2 969.4 700.8 965.8 702.5 962.5 C704.2 959.2 705.6 955.4 707.5 952.5 C709.4 949.6 711.3 946.9 713.8 945 C716.3 943.1 719.8 942.0 722.5 941.2 C725.2 940.4 726.7 940.7 730 940Z" fill="#ff5000"/>
<path d="M491.2 1082.5 C491.5 1079.2 491.0 1075.8 492.5 1072.5 C494.0 1069.2 497.1 1065.6 500 1062.5 C502.9 1059.4 506.9 1056.5 510 1053.8 C513.1 1051.1 516.3 1048.5 518.8 1046.2 C521.3 1043.9 522.3 1042.1 525 1040 C527.7 1037.9 530.8 1035.3 535 1033.8 C539.2 1032.3 545.0 1031.6 550 1031.2 C555.0 1030.8 560.0 1031.5 565 1031.2 C570.0 1030.9 575.0 1030.2 580 1029.5 C585.0 1028.8 590.0 1028.0 595 1027 C600.0 1026.0 605.0 1025.0 610 1023.8 C615.0 1022.6 620.4 1021.3 625 1020 C629.6 1018.7 633.3 1017.2 637.5 1016.2 C641.7 1015.2 645.8 1014.3 650 1013.8 C654.2 1013.3 658.8 1012.9 662.5 1013 C666.2 1013.1 670.0 1015.0 672.5 1014.5 C675.0 1014.0 675.4 1011.4 677.5 1010 C679.6 1008.6 682.1 1007.1 685 1006.2 C687.9 1005.3 691.7 1004.7 695 1004.5 C698.3 1004.3 701.7 1004.3 705 1005 C708.3 1005.7 711.7 1007.5 715 1008.8 C718.3 1010.0 721.7 1010.6 725 1012.5 C728.3 1014.4 732.1 1017.1 735 1020 C737.9 1022.9 740.6 1026.7 742.5 1030 C744.4 1033.3 745.4 1036.2 746.2 1040 C747.0 1043.8 747.5 1048.3 747.5 1052.5 C747.5 1056.7 747.0 1060.8 746.2 1065 C745.4 1069.2 744.0 1073.8 742.5 1077.5 C741.0 1081.2 739.6 1084.2 737.5 1087.5 C735.4 1090.8 732.3 1094.2 730 1097.5 C727.7 1100.8 725.9 1104.6 723.8 1107.5 C721.7 1110.4 720.2 1112.5 717.5 1115 C714.8 1117.5 711.2 1120.8 707.5 1122.5 C703.8 1124.2 699.6 1124.4 695 1125 C690.4 1125.6 685.0 1125.9 680 1126.2 C675.0 1126.5 670.0 1126.6 665 1127 C660.0 1127.4 654.6 1128.3 650 1128.8 C645.4 1129.3 641.2 1130.0 637.5 1130 C633.8 1130.0 630.8 1128.6 627.5 1128.8 C624.2 1129.0 620.8 1130.0 617.5 1131.2 C614.2 1132.4 610.4 1134.5 607.5 1136.2 C604.6 1137.9 602.9 1139.3 600 1141.2 C597.1 1143.1 593.3 1145.6 590 1147.5 C586.7 1149.4 583.8 1151.0 580 1152.5 C576.2 1154.0 571.7 1155.2 567.5 1156.2 C563.3 1157.2 559.6 1158.2 555 1158.8 C550.4 1159.4 544.6 1159.8 540 1160 C535.4 1160.2 531.2 1160.4 527.5 1160 C523.8 1159.6 520.4 1159.2 517.5 1157.5 C514.6 1155.8 512.3 1152.9 510 1150 C507.7 1147.1 505.9 1143.5 503.8 1140 C501.7 1136.5 499.2 1132.5 497.5 1128.8 C495.8 1125.0 494.9 1121.5 493.8 1117.5 C492.8 1113.5 491.8 1109.2 491.2 1105 C490.6 1100.8 490.5 1096.2 490.5 1092.5 C490.5 1088.8 490.9 1085.8 491.2 1082.5Z" fill="#ffaa00"/>
<path d="M499.5 1092.5 C499.8 1089.8 499.9 1086.3 501.2 1083.8 C502.5 1081.3 504.8 1079.2 507.5 1077.5 C510.2 1075.8 514.2 1075.5 517.5 1073.8 C520.8 1072.1 525.0 1069.8 527.5 1067.5 C530.0 1065.2 530.8 1062.3 532.5 1060 C534.2 1057.7 535.4 1055.5 537.5 1053.8 C539.6 1052.1 541.2 1051.3 545 1050 C548.8 1048.7 555.0 1047.5 560 1046.2 C565.0 1045.0 570.0 1043.7 575 1042.5 C580.0 1041.3 585.0 1040.0 590 1038.8 C595.0 1037.5 600.0 1036.5 605 1035 C610.0 1033.5 615.4 1031.5 620 1030 C624.6 1028.5 628.3 1027.5 632.5 1026.2 C636.7 1025.0 640.8 1023.5 645 1022.5 C649.2 1021.5 653.3 1020.4 657.5 1020 C661.7 1019.6 666.2 1020.6 670 1020 C673.8 1019.4 676.7 1017.5 680 1016.2 C683.3 1015.0 686.7 1013.3 690 1012.5 C693.3 1011.7 696.7 1011.0 700 1011.2 C703.3 1011.4 706.7 1012.5 710 1013.8 C713.3 1015.1 716.7 1016.7 720 1018.8 C723.3 1020.9 727.3 1023.5 730 1026.2 C732.7 1028.9 734.5 1031.9 736.2 1035 C737.9 1038.1 739.2 1041.2 740 1045 C740.8 1048.8 741.4 1053.3 741.2 1057.5 C741.0 1061.7 739.8 1066.0 738.8 1070 C737.8 1074.0 736.7 1077.7 735 1081.2 C733.3 1084.7 731.1 1088.1 728.8 1091.2 C726.5 1094.3 723.9 1097.3 721.2 1100 C718.5 1102.7 715.6 1105.2 712.5 1107.5 C709.4 1109.8 705.8 1111.9 702.5 1113.8 C699.2 1115.7 696.2 1117.6 692.5 1118.8 C688.8 1120.0 684.6 1120.7 680 1121.2 C675.4 1121.7 670.0 1121.8 665 1122 C660.0 1122.2 654.6 1122.6 650 1122.5 C645.4 1122.4 641.2 1121.6 637.5 1121.2 C633.8 1120.8 630.8 1119.8 627.5 1120 C624.2 1120.2 621.2 1121.0 617.5 1122.5 C613.8 1124.0 609.2 1126.9 605 1128.8 C600.8 1130.7 596.7 1132.3 592.5 1133.8 C588.3 1135.2 584.2 1136.3 580 1137.5 C575.8 1138.7 571.7 1140.2 567.5 1141.2 C563.3 1142.2 559.2 1143.7 555 1143.8 C550.8 1143.9 546.2 1142.8 542.5 1142 C538.8 1141.2 535.4 1139.3 532.5 1138.8 C529.6 1138.3 527.9 1139.2 525 1138.8 C522.1 1138.4 517.7 1137.7 515 1136.2 C512.3 1134.7 510.7 1132.5 508.8 1130 C506.9 1127.5 505.2 1124.5 503.8 1121.2 C502.4 1117.9 501.2 1113.5 500.5 1110 C499.8 1106.5 499.7 1102.9 499.5 1100 C499.3 1097.1 499.2 1095.2 499.5 1092.5Z" fill="#ffff00"/>
<path d="M523.8 1085 C524.0 1082.1 524.8 1079.8 526.2 1077.5 C527.7 1075.2 530.2 1073.1 532.5 1071.2 C534.8 1069.3 537.1 1067.7 540 1066.2 C542.9 1064.8 547.3 1064.0 550 1062.5 C552.7 1061.0 554.1 1059.0 556.2 1057.5 C558.3 1056.0 559.4 1055.0 562.5 1053.8 C565.6 1052.5 570.4 1051.5 575 1050 C579.6 1048.5 585.0 1046.7 590 1045 C595.0 1043.3 600.4 1041.7 605 1040 C609.6 1038.3 613.3 1036.5 617.5 1035 C621.7 1033.5 625.4 1032.5 630 1031.2 C634.6 1030.0 640.4 1028.5 645 1027.5 C649.6 1026.5 653.3 1025.6 657.5 1025 C661.7 1024.4 666.2 1024.2 670 1023.8 C673.8 1023.4 676.7 1022.5 680 1022.5 C683.3 1022.5 686.7 1023.2 690 1023.8 C693.3 1024.4 697.1 1025.2 700 1026.2 C702.9 1027.2 704.8 1029.4 707.5 1030 C710.2 1030.6 713.3 1029.2 716.2 1030 C719.1 1030.8 722.5 1032.5 725 1035 C727.5 1037.5 729.7 1041.2 731.2 1045 C732.7 1048.8 733.6 1053.3 733.8 1057.5 C734.0 1061.7 733.3 1066.2 732.5 1070 C731.7 1073.8 730.5 1076.7 728.8 1080 C727.1 1083.3 724.8 1087.1 722.5 1090 C720.2 1092.9 717.9 1095.2 715 1097.5 C712.1 1099.8 708.3 1101.7 705 1103.8 C701.7 1105.9 698.3 1108.3 695 1110 C691.7 1111.7 688.8 1112.8 685 1113.8 C681.2 1114.8 676.7 1115.8 672.5 1116.2 C668.3 1116.6 664.2 1116.4 660 1116.2 C655.8 1116.0 651.7 1115.6 647.5 1115 C643.3 1114.4 638.3 1113.3 635 1112.5 C631.7 1111.7 630.4 1109.6 627.5 1110 C624.6 1110.4 620.8 1113.3 617.5 1115 C614.2 1116.7 611.2 1118.8 607.5 1120 C603.8 1121.2 599.2 1121.7 595 1122.5 C590.8 1123.3 586.7 1124.4 582.5 1125 C578.3 1125.6 574.2 1126.2 570 1126.2 C565.8 1126.2 561.7 1125.6 557.5 1125 C553.3 1124.4 548.8 1123.1 545 1122.5 C541.2 1121.9 537.7 1122.0 535 1121.2 C532.3 1120.4 529.6 1119.4 528.8 1117.5 C528.0 1115.6 530.2 1112.5 530 1110 C529.8 1107.5 528.3 1105.0 527.5 1102.5 C526.7 1100.0 525.6 1097.9 525 1095 C524.4 1092.1 523.6 1087.9 523.8 1085Z" fill="#22ff00"/>
<path d="M538.8 1080 C539.2 1078.1 540.6 1076.3 542.5 1075 C544.4 1073.7 547.1 1072.4 550 1072 C552.9 1071.6 557.1 1072.0 560 1072.5 C562.9 1073.0 564.6 1074.4 567.5 1075 C570.4 1075.6 574.6 1076.6 577.5 1076.2 C580.4 1075.8 584.2 1073.7 585 1072.5 C585.8 1071.3 583.8 1069.6 582.5 1068.8 C581.2 1068.0 577.9 1068.3 577.5 1067.5 C577.1 1066.7 577.5 1065.0 580 1063.8 C582.5 1062.5 588.3 1061.5 592.5 1060 C596.7 1058.5 600.8 1056.9 605 1055 C609.2 1053.1 613.8 1050.9 617.5 1048.8 C621.2 1046.7 624.2 1044.2 627.5 1042.5 C630.8 1040.8 633.8 1039.8 637.5 1038.8 C641.2 1037.8 645.8 1037.0 650 1036.2 C654.2 1035.4 658.3 1034.4 662.5 1033.8 C666.7 1033.2 671.2 1032.7 675 1032.5 C678.8 1032.3 681.7 1032.1 685 1032.5 C688.3 1032.9 692.1 1034.0 695 1035 C697.9 1036.0 700.0 1037.1 702.5 1038.8 C705.0 1040.5 707.5 1042.5 710 1045 C712.5 1047.5 715.4 1050.9 717.5 1053.8 C719.6 1056.7 721.2 1059.4 722.5 1062.5 C723.8 1065.6 724.8 1069.2 725 1072.5 C725.2 1075.8 724.6 1079.8 723.8 1082.5 C723.0 1085.2 721.9 1087.1 720 1088.8 C718.1 1090.5 715.4 1091.5 712.5 1092.5 C709.6 1093.5 705.8 1093.8 702.5 1095 C699.2 1096.2 695.8 1098.1 692.5 1100 C689.2 1101.9 685.8 1104.5 682.5 1106.2 C679.2 1107.9 675.8 1109.2 672.5 1110 C669.2 1110.8 665.8 1111.4 662.5 1111.2 C659.2 1111.0 655.4 1109.8 652.5 1108.8 C649.6 1107.8 647.5 1105.8 645 1105 C642.5 1104.2 640.0 1104.2 637.5 1103.8 C635.0 1103.4 632.9 1102.9 630 1102.5 C627.1 1102.1 623.3 1101.0 620 1101.2 C616.7 1101.4 613.3 1103.2 610 1103.8 C606.7 1104.4 603.3 1104.4 600 1105 C596.7 1105.6 593.3 1106.9 590 1107.5 C586.7 1108.1 583.3 1108.6 580 1108.8 C576.7 1109.0 573.3 1109.4 570 1108.8 C566.7 1108.2 563.3 1106.5 560 1105 C556.7 1103.5 552.5 1102.1 550 1100 C547.5 1097.9 546.7 1094.8 545 1092.5 C543.3 1090.2 541.0 1088.3 540 1086.2 C539.0 1084.1 538.4 1081.9 538.8 1080Z" fill="#008c30"/>
<path d="M660 1043.8 C663.3 1042.8 666.2 1042.5 670 1042.5 C673.8 1042.5 678.8 1042.8 682.5 1043.8 C686.2 1044.8 690.0 1046.5 692.5 1048.8 C695.0 1051.1 696.5 1054.4 697.5 1057.5 C698.5 1060.6 698.4 1064.6 698.8 1067.5 C699.2 1070.4 700.6 1072.5 700 1075 C699.4 1077.5 697.1 1080.4 695 1082.5 C692.9 1084.6 690.0 1085.8 687.5 1087.5 C685.0 1089.2 682.5 1090.8 680 1092.5 C677.5 1094.2 675.4 1096.0 672.5 1097.5 C669.6 1099.0 665.8 1100.8 662.5 1101.2 C659.2 1101.6 655.4 1101.0 652.5 1100 C649.6 1099.0 647.1 1097.1 645 1095 C642.9 1092.9 641.0 1090.4 640 1087.5 C639.0 1084.6 638.8 1080.8 638.8 1077.5 C638.8 1074.2 639.4 1070.8 640 1067.5 C640.6 1064.2 640.8 1060.6 642.5 1057.5 C644.2 1054.4 647.1 1051.1 650 1048.8 C652.9 1046.5 656.7 1044.8 660 1043.8Z" fill="#00ffff"/>
<path d="M663.8 1057.5 C665.5 1055.6 667.9 1054.0 670 1053.8 C672.1 1053.6 674.5 1054.5 676.2 1056.2 C677.9 1057.9 679.6 1061.1 680 1063.8 C680.4 1066.5 679.8 1070.0 678.8 1072.5 C677.8 1075.0 675.3 1077.1 673.8 1078.8 C672.3 1080.5 671.3 1082.7 670 1082.5 C668.7 1082.3 667.7 1079.2 666.2 1077.5 C664.7 1075.8 662.2 1074.6 661.2 1072.5 C660.2 1070.4 659.6 1067.5 660 1065 C660.4 1062.5 662.1 1059.4 663.8 1057.5Z" fill="#0080ff"/>
<path d="M1240 1310 C1215.8 1299.4 1240.3 1259.2 1239.7 1246.2 C1239.1 1233.2 1236.8 1236.6 1236.2 1232 C1235.6 1227.4 1235.6 1222.5 1236.2 1218.5 C1236.8 1214.5 1238.1 1211.5 1240 1208 C1241.9 1204.5 1245.2 1200.6 1247.5 1197.5 C1249.8 1194.4 1251.4 1191.2 1253.5 1189.2 C1255.6 1187.2 1260.0 1187.1 1260.2 1185.5 C1260.5 1183.9 1256.5 1181.8 1255 1179.5 C1253.5 1177.2 1251.5 1173.9 1251.2 1172 C1251.0 1170.1 1251.9 1169.3 1253.5 1168.2 C1255.1 1167.1 1258.5 1166.2 1261 1165.2 C1263.5 1164.2 1265.5 1162.8 1268.5 1162.2 C1271.5 1161.6 1275.5 1162.4 1279 1161.5 C1282.5 1160.6 1286.0 1158.0 1289.5 1157 C1293.0 1156.0 1296.2 1155.5 1300 1155.2 C1303.8 1154.9 1308.2 1155.2 1312 1155.2 C1315.8 1155.2 1319.5 1155.1 1322.5 1155.5 C1325.5 1155.9 1327.5 1156.7 1330 1157.7 C1332.5 1158.7 1335.2 1160.0 1337.5 1161.5 C1339.8 1163.0 1341.8 1165.0 1343.5 1166.7 C1345.2 1168.5 1345.8 1170.5 1348 1172 C1350.2 1173.5 1354.2 1174.5 1357 1175.7 C1359.8 1177.0 1362.2 1177.9 1364.5 1179.5 C1366.8 1181.1 1368.9 1183.2 1370.5 1185.5 C1372.1 1187.8 1373.5 1190.8 1374.2 1193 C1375.0 1195.2 1373.8 1197.2 1375 1199 C1376.2 1200.8 1381.0 1201.8 1381.7 1203.5 C1382.5 1205.2 1378.9 1207.5 1379.5 1209.5 C1380.1 1211.5 1383.8 1213.2 1385.5 1215.5 C1387.2 1217.8 1389.2 1220.5 1390 1223 C1390.8 1225.5 1390.5 1228.0 1390 1230.5 C1389.5 1233.0 1387.8 1235.4 1387 1238 C1386.2 1240.6 1385.8 1234.2 1385.5 1246.2 C1385.2 1258.2 1409.5 1299.4 1385.2 1310 C1361.0 1320.6 1264.2 1320.6 1240 1310Z" fill="#ff00ff"/>
<path d="M1282.7 1310 C1277.6 1299.4 1282.4 1258.2 1282 1246.2 C1281.6 1234.2 1280.5 1239.9 1280.5 1238 C1280.5 1236.1 1283.0 1236.6 1282 1235 C1281.0 1233.4 1275.2 1230.2 1274.5 1228.2 C1273.8 1226.2 1277.0 1225.9 1277.5 1223 C1278.0 1220.1 1276.6 1213.1 1277.5 1211 C1278.4 1208.9 1281.6 1211.5 1282.7 1210.2 C1283.8 1209.0 1284.6 1205.6 1284.2 1203.5 C1283.8 1201.4 1282.0 1199.2 1280.5 1197.5 C1279.0 1195.8 1276.3 1194.8 1275.2 1193 C1274.1 1191.2 1273.6 1189.0 1273.7 1187 C1273.8 1185.0 1274.5 1182.6 1276 1181 C1277.5 1179.4 1280.5 1177.5 1282.7 1177.2 C1285.0 1177.0 1287.4 1178.2 1289.5 1179.5 C1291.6 1180.8 1293.5 1182.8 1295.5 1184.7 C1297.5 1186.6 1301.5 1189.1 1301.5 1190.7 C1301.5 1192.3 1297.2 1192.6 1295.5 1194.5 C1293.8 1196.4 1291.8 1199.9 1291 1202 C1290.2 1204.1 1290.1 1205.6 1291 1207.2 C1291.9 1208.8 1294.2 1210.0 1296.2 1211.7 C1298.2 1213.5 1301.9 1214.8 1303 1217.7 C1304.1 1220.6 1302.9 1226.0 1303 1229 C1303.1 1232.0 1303.0 1233.7 1303.7 1235.7 C1304.5 1237.7 1306.2 1239.2 1307.5 1241 C1308.8 1242.8 1310.8 1234.7 1311.7 1246.2 C1312.6 1257.7 1317.5 1299.4 1312.7 1310 C1307.9 1320.6 1287.8 1320.6 1282.7 1310Z" fill="#ff5000"/>
<path d="M1312.7 1200.5 C1313.8 1200.1 1317.5 1201.0 1319.5 1202 C1321.5 1203.0 1323.7 1204.9 1324.7 1206.5 C1325.7 1208.1 1325.9 1210.2 1325.5 1211.7 C1325.1 1213.2 1324.0 1215.5 1322.5 1215.2 C1321.0 1215.0 1318.1 1212.0 1316.5 1210.2 C1314.9 1208.4 1313.3 1205.8 1312.7 1204.2 C1312.1 1202.6 1311.6 1200.9 1312.7 1200.5Z" fill="#ff5000"/>
<path d="M1310.5 1220.7 C1310.5 1219.8 1311.2 1218.6 1312 1218.2 C1312.8 1217.8 1314.2 1217.8 1315 1218.2 C1315.8 1218.6 1316.5 1219.8 1316.5 1220.7 C1316.5 1221.6 1315.8 1223.2 1315 1223.7 C1314.2 1224.2 1312.8 1224.2 1312 1223.7 C1311.2 1223.2 1310.5 1221.6 1310.5 1220.7Z" fill="#ff5000"/>
</g>
<g fill="none" stroke="#3a3020" stroke-width="1" stroke-opacity="0.8" stroke-linejoin="round">
<path d="M11 406.2 L22.5 398 L32.5 405 L50 406.2 L65 403 L75 406.2 L82.5 413.8 L92.5 418.8 L97.5 426.2 L110 427.5 L120 423.8 L125 431.2 L135 435 L142.5 431.2 L160 426.2 L175 418.8 L190 412.5 L207.5 406.2 L215 405.5 L225 408 L235 411.2 L246.2 410.8 L250 417.5 L265 420 L282.5 420 L295 423.2 L307.5 418.8 L312 412.5 L306.2 405 L305.5 397.5 L315 390 L322.5 384.2 L332.5 388 L350 391.2 L375 397 L378.8 407.5 L387.5 413.8 L400 417 L412.5 415 L430 412 L450 413.8 L470 420 L473.8 426.2 L482.5 430.5 L500 432 L515 433.8 L530 430 L550 426.2 L562.5 420 L575 415.8 L585 416.2 L597.5 420.5 L607.5 418.8 L615 422 L630 425.5 L645 420.5 L657.5 418 L660 410 L667.5 400 L672.5 391.2 L681.2 386.2 L682.5 380 L678.8 376.2 L671.2 376.2 L675 371.2 L685 366.2 L700 363 L715 361.8 L727.5 360.8 L737.5 363 L750 367.5 L760 368.8 L770 375 L777.5 385 L783.8 397.5 L790 407.5 L795 420 L798.8 425 L810 427 L825 430 L835 435 L845 440 L848.8 450 L853.8 457.5 L867.5 458 L880 455 L892.5 448.8 L905 447 L912 448 L913 456.2 L905 462.5 L902 475 L895 486.2 L888.8 497.5 L881.2 502.5 L866.2 498.8 L851.2 505 L855 513.8 L853.8 525 L855 533.8 L848.8 538.8 L845 545"/>
<path d="M138.8 435 L142.5 442.5 L155 448.8 L170 453.8 L180 458.8 L186.2 466.2 L192.5 473.8 L193 483.8 L187.5 490 L187 495 L192.5 499.5 L212.5 501.2 L232.5 502.5 L247.5 510 L263.8 515 L271.2 527.5 L281.2 538.8 L312.5 538.8 L332.5 542.5 L360 541.2 L375 547.5 L392.5 552.5 L405 556.2 L422.5 558 L437.5 552 L457.5 546.2 L480 543.8 L500 543 L510 540 L517.5 533.8 L527.5 527.5 L537.5 523.8 L533.8 518.8 L528.8 512.5 L532.5 505 L540 501.2 L552.5 503.8 L565 506.2 L572.5 502.5 L582.5 495 L595 493.8 L607.5 487.5 L613.8 481.2 L625 478.8 L635 475 L647.5 473 L660 473.8 L668.8 474.5 L663.8 467.5 L655 460 L645 453.8 L630 452.5 L617.5 454.5 L605 457 L598.8 455.5 L597.5 450 L603.8 442.5 L610 432.5 L615 422"/>
<path d="M125 431.2 L120 440 L107.5 445.5 L102.5 452.5 L104.5 460 L101.2 467.5 L90 471.2 L75 468 L61.2 465.8 L48.8 492.5 L53.8 497.5 L40 496.2 L22.5 500 L11 502"/>
<path d="M11 505 L17.5 506.2 L18 515 L23.8 530 L17.5 537.5 L12.5 547.5 L15 551.2"/>
<path d="M845 545 L842.5 537.5 L833.8 536.2 L827.5 545 L817.5 550 L806.2 552.5 L803.8 560 L793.8 558.8 L782.5 556.2 L775 565 L765 570 L752.5 576.2 L742.5 583.8 L740 587.5"/>
<path d="M11 740 L25 743.8 L37.5 742.5 L50 750 L65 757.5 L77.5 763.8 L87.5 772.5 L100 777.5 L112.5 781.2 L130 783.8 L145 785 L155 782 L156.2 787.5 L155 792.5"/>
<path d="M25 745 L15 755 L11 767.5 L25 776.2 L40 783.8 L55 790 L70 792.5 L85 795 L100 801.2 L115 805 L130 808 L143.8 808 L145 800 L143.8 790 L147.5 784.5"/>
<path d="M161.2 787.5 L170 780 L185 781.2 L200 782 L205 790 L210 792.5 L209.5 801.2 L195 801.2 L180 802.5 L165 801.2 L156.2 795"/>
<path d="M147.5 806.2 L160 810 L170 812.5 L172.5 825 L182.5 828 L200 828.8 L212.5 830 L216.2 833.8 L210 840 L200 845 L195 851.2 L197.5 860 L202.5 865 L207.5 853.8 L212.5 852.5 L216.2 867.5 L218.8 892.5"/>
<path d="M147.5 806.2 L143.8 815 L150 823.8 L157.5 827.5 L145 835 L143.8 841.2 L152.5 845 L150 855 L156.2 865 L158.8 880"/>
<path d="M218.8 892.5 L220 880 L226.2 878.8 L230 862.5 L231.2 848.8 L243.8 848.8 L250 830 L257.5 817.5 L260 806.2 L272.5 796.2 L287.5 792.5 L291.2 796.2 L288.8 787.5 L296.2 781.2 L300 773.8 L310 780 L312.5 787.5 L318.8 790 L320.8 802.5 L318.8 815 L312.5 823.8 L303.8 830 L300 840 L303.8 848.8 L318.8 846.2 L322.5 857.5 L332.5 865 L330 876.2 L340 881.2 L343.8 890 L353.8 890 L360 886.2 L360 892.5 L350 898.8 L342.5 907.5 L335 910 L322.5 915 L307.5 917.5 L302.5 930 L303.8 940"/>
<path d="M360 892.5 L367.5 888.8 L366.2 877.5 L376.2 873.8 L380 870 L392.5 871.2 L410 867.5 L420 861.2 L427.5 858.8 L437.5 865 L450 865 L452.5 876.2 L462.5 887.5 L475 888"/>
<path d="M376.2 873.8 L385 883.8 L392.5 897.5 L407.5 901.2 L416.2 906.2 L415 915 L405 925 L420 935 L425 940"/>
<path d="M342.5 907.5 L348.8 912.5 L350 921.2 L360 925 L361.2 940"/>
<path d="M300 940 L303.8 952.5 L308.8 962.5 L317.5 967.5 L322.5 975 L317.5 985 L311.2 995 L312.5 1007.5 L320 1020 L325 1032.5 L330 1045 L335 1052.5 L327.5 1065 L322.5 1075 L317.5 1080"/>
<path d="M361.2 940 L357.5 950 L365 948.8 L375 943.8 L387.5 941.2 L400 940 L410 943.8 L417.5 952.5 L422.5 965 L430 977.5 L433.8 985 L432.5 995 L431.2 1005"/>
<path d="M425 940 L435 947.5 L445 957.5 L452.5 967.5 L460 977.5 L465 990 L462.5 1000"/>
<path d="M431.2 1005 L420 1006.2 L405 1006.2 L390 1010 L380 1020 L382.5 1032.5 L390 1045"/>
<path d="M431.2 1005 L440 1010 L450 1007.5 L462.5 1000 L450 1007.5 L440 1012.5 L447.5 1020 L460 1022.5 L465 1032.5 L457.5 1042.5 L445 1047.5 L437.5 1055 L440 1062.5 L425 1070 L420 1065 L410 1062.5"/>
<path d="M345 1136.2 L355 1140 L360 1150 L370 1147.5 L375 1142.5"/>
<path d="M524 1221 L532 1226 L540 1222 L548 1220 L556 1218 L562 1212 L568 1208 L580 1206 L588 1202 L592 1194 L596 1186 L600 1178 L600 1172 L610 1172 L624 1172 L630 1174"/>
</g>
<defs><g id="cst">
<path d="M-10 238 L1238.8 238 L1238.8 256.2 L1232.5 261.2 L1237.5 262.5 L1248.8 263.8 L1250 267 L1235 268.2 L1220 268.8 L1207.5 271.2 L1192.5 273.8 L1185 272 L1190 267.5 L1200 265 L1185 261.2 L1170 258.8 L1155 260 L1147.5 266.2 L1143.8 263.8 L1135 263 L1120 265.8 L1107.5 265 L1100 268.8 L1095 265 L1077.5 264.2 L1057.5 265.5 L1040 268.8 L1027.5 273.8 L1015 281.2 L1007.5 288.8 L1000 292.5 L987.5 302.5 L975 310 L965 317.5 L950 326.2 L935 333.8 L921.2 340 L935 343.8 L945 346.2 L947.5 356.2 L957.5 357.5 L967.5 355 L980 352.5 L983.8 350 L1000 348.8 L1000 352.5 L1010 357.5 L1022.5 363.8 L1023.8 370 L1015 370 L1022.5 376.2 L1023.8 383.8 L1015 392.5 L1010 402.5 L1011.2 417.5 L1007.5 430 L1003.8 442.5 L1000 447.5 L990 457.5 L980 470 L972.5 480 L962.5 490 L950 500 L937.5 510 L925 522.5 L910 531.2 L897.5 537.5 L886.2 540 L875 535 L867.5 531.2 L860 537.5 L850 542.5 L842.5 547.5 L835 555 L830 562.5 L831.2 570 L820 577.5 L810 585 L800 590 L793.8 595 L795 597.5 L802.5 602.5 L810 610 L817.5 620 L823.8 630 L826.2 640 L827.5 651.2 L822.5 660 L812.5 666.2 L800 668.8 L787.5 673.8 L777.5 676.2 L772.5 671.2 L777.5 665 L778.8 655 L775 647.5 L777.5 640 L785 636.2 L781.2 630 L777.5 622.5 L770 621.2 L760 620 L752.5 617.5 L747.5 618.8 L750 611.2 L755 606.2 L760 598.8 L760 592 L752.5 590 L746.2 591.2 L740 587 L730 587.5 L717.5 591.2 L707.5 595 L697.5 603 L690 603.8 L697.5 596.2 L692.5 591.2 L700 582.5 L707.5 575 L702.5 571.2 L692.5 570 L685 572.5 L675 580 L665 586.2 L657.5 593.8 L647.5 600 L640 597.5 L632.5 598.8 L627.5 605 L631.2 612.5 L640 616.2 L650 615 L653.8 621.2 L656.2 628.8 L665 631.2 L672.5 626.2 L680 622.5 L690 621.2 L700 625 L707.5 626.2 L713.8 627.5 L712.5 632.5 L705 636.2 L695 638.8 L685 641.2 L675 647.5 L670 653.8 L662.5 660 L656.2 667.5 L660 672.5 L670 676.2 L675 680 L680 690 L685 700 L690 707.5 L697.5 715 L702.5 722.5 L701.2 730 L697.5 737.5 L692.5 741.2 L680 743.8 L675 745 L685 746.2 L695 743.8 L702.5 747.5 L707.5 750 L702.5 760 L700 767.5 L692.5 777.5 L685 782.5 L680 792.5 L672.5 802.5 L665 811.2 L662.5 820 L655 827.5 L647.5 832.5 L640 840 L630 847.5 L622.5 853.8 L612.5 860 L605 863.8 L595 866.2 L585 868.8 L575 872.5 L563.8 870 L555 878.8 L545 882.5 L535 883.8 L525 887.5 L517.5 891.2 L512.5 895 L513.8 901.2 L511.2 908.8 L506.2 906.2 L507.5 897.5 L502.5 892.5 L497.5 887.5 L490 888.8 L480 885 L470 892.5 L462.5 897.5 L455 900 L448.8 905 L445 913.8 L438.8 917.5 L435 925 L436.2 932.5 L441.2 940 L446.2 947.5 L452.5 956.2 L460 965 L470 972.5 L478.8 981.2 L485 990 L490 1002.5 L493.8 1015 L495 1027.5 L493.8 1040 L490 1050 L482.5 1057.5 L473.8 1063.8 L465 1070 L457.5 1073.8 L450 1078.8 L440 1087.5 L430 1097.5 L421.2 1102.5 L420 1092.5 L422.5 1082.5 L415 1080 L406.2 1075 L400 1065 L392.5 1057.5 L386.2 1048.8 L377.5 1041.2 L367.5 1035 L355 1033.8 L355 1023.8 L342.5 1023.8 L341.2 1030 L340 1042.5 L335 1055 L330 1067.5 L327.5 1080 L328.8 1090 L335 1090 L337.5 1097.5 L343.8 1105 L346.2 1115 L352.5 1125 L360 1131.2 L367.5 1130 L375 1137.5 L385 1145 L392.5 1152.5 L397.5 1162.5 L396.2 1172.5 L397.5 1185 L400 1197.5 L406.2 1210 L410 1220 L400 1221.2 L390 1216.2 L380 1210 L370 1202.5 L362.5 1195 L360 1185 L352.5 1175 L348.8 1165 L345 1152.5 L341.2 1142.5 L335 1132.5 L327.5 1122.5 L322.5 1115 L317.5 1110 L312.5 1112.5 L311.2 1102.5 L312.5 1090 L316.2 1080 L317.5 1067.5 L320 1055 L318.8 1042.5 L317.5 1030 L313.8 1017.5 L310 1007.5 L306.2 995 L303.8 985 L300 972.5 L295 965 L290 957.5 L287.5 963.8 L280 970 L272.5 977.5 L265 983.8 L255 982.5 L246.2 980 L247.5 973.8 L251.2 965 L250 955 L246.2 943.8 L240 936.2 L242.5 930 L237.5 922.5 L230 915 L222.5 910 L215 900 L207.5 890 L206.2 882.5 L203.8 875 L200 871.2 L195 872.5 L185 878.8 L175 881.2 L162.5 883.8 L150 885 L140 886.2 L130 890 L125 896.2 L125 897.5 L123.8 905 L117.5 911.2 L107.5 916.2 L100 917.5 L95 921.2 L85 931.2 L77.5 940 L67.5 947.5 L57.5 956.2 L48.8 963.8 L46.2 970 L37.5 972.5 L30 976.2 L26.2 983.8 L20 982.5 L13.8 990 L-10 1000 L-10 1015 L15 1030 L-10 1042.5Z"/>
<path d="M1352.5 238 L1342.5 261.2 L1330 268.8 L1320 277.5 L1307.5 283.8 L1295 288.8 L1285 291.2 L1277.5 293 L1278.8 298.8 L1270 305 L1262.5 311.2 L1258.8 320 L1256.2 330 L1257.5 342.5 L1261.2 355 L1265 367.5 L1268.8 380 L1272.5 392.5 L1275 403.8 L1285 398.8 L1295 392.5 L1302.5 385 L1306.2 376.2 L1305 370 L1315 368.8 L1330 367.5 L1328.8 360 L1332.5 352.5 L1342.5 346.2 L1355 345 L1362.5 342.5 L1365 337.5 L1360 333.8 L1360 327.5 L1365 321.2 L1370 316.2 L1375 318.8 L1382.5 319.5 L1385 315 L1382.5 310 L1376.2 308.8 L1375 300 L1380 295 L1381.2 291.2 L1372.5 290 L1366.2 290 L1362.5 286.2 L1366.2 280 L1375 272.5 L1380 267.5 L1383.8 261.2 L1390 238Z"/>
<path d="M1396.2 238 L1400 258 L1410 258 L1415 238Z"/>
<path d="M1430 238 L1433.8 257.5 L1440 238Z"/>
<path d="M1037.5 350 L1045 347 L1048.8 351.2 L1047.5 357.5 L1052.5 365 L1055.5 372.5 L1053.8 380 L1055.5 390 L1060 402.5 L1065.5 415 L1071.2 427.5 L1076.2 437.5 L1078 442 L1072.5 436.2 L1065.5 432 L1058.8 430.5 L1052.5 432.5 L1048.8 440 L1045 448.8 L1042.5 456.2 L1046.2 462.5 L1051.2 468.8 L1058.8 475 L1058 483.8 L1055.5 480 L1052.5 473.8 L1047.5 476.2 L1041.2 480 L1035 486.2 L1031.2 483.8 L1030.5 475 L1033.8 465 L1032 452.5 L1030.5 440 L1035 430 L1035.5 417.5 L1036.2 405 L1032.5 395 L1027 387.5 L1027.5 375 L1029.5 365 L1037.5 361.2 L1042.5 356.2Z"/>
<path d="M1027.5 495.5 L1032.5 494.5 L1040 501.2 L1050 508.8 L1062.5 515 L1075 518.8 L1083.8 517.5 L1088 513 L1086.2 521.2 L1090 528.8 L1080 533.8 L1070 536.2 L1062.5 541.2 L1053.8 552.5 L1042.5 547.5 L1030 542.5 L1023.8 543.8 L1020 551.2 L1017.5 556.2 L1010 557.5 L1001.2 559.5 L998.8 552.5 L1000 545.5 L997.5 541.2 L1005 532.5 L1012.5 530 L1020 531.2 L1023.8 525 L1025 517.5 L1027.5 507.5 L1026.2 500Z"/>
<path d="M1005 565 L1010 563.8 L1011.2 568.8 L1018.8 568.8 L1020 562.5 L1023.8 562 L1025 570 L1028.8 578.8 L1032.5 587.5 L1033.8 593.8 L1030 601.2 L1025 607.5 L1026.2 612.5 L1018.8 613.8 L1016.2 621.2 L1017.5 630 L1013.8 637.5 L1010 646.2 L1013.8 653.8 L1007.5 660 L1000 666.2 L998.8 657.5 L995 658.8 L996.2 666.2 L987.5 665 L983.8 672.5 L980 672.5 L980 665 L972.5 671.2 L962.5 673 L953.8 672.5 L948.8 667.5 L945 670 L948.8 677.5 L941.2 681.2 L937.5 687.5 L931.2 692.5 L923.8 688.8 L921.2 682.5 L925 673.8 L915 673.8 L907.5 677.5 L895 676.2 L880 678.8 L867.5 681.2 L855 683.8 L850 680 L850 678.8 L862.5 672.5 L877.5 662.5 L890 658.8 L905 656.2 L922.5 655 L932.5 652.5 L935 650 L941.2 641.2 L946.2 632.5 L948.8 627.5 L956.2 626.2 L950 631.2 L952.5 637.5 L962.5 633.8 L972.5 627.5 L982.5 620 L991.2 612.5 L997.5 602.5 L1001.2 592.5 L999.5 585 L1000 573.8Z"/>
<path d="M827.5 697.5 L835 690 L847.5 685 L857.5 690 L865 695 L868.8 702.5 L865 710 L860 720 L855 727.5 L847.5 732.5 L842.5 727.5 L837.5 720 L835 710 L830 705Z"/>
<path d="M875 695 L882.5 690 L895 686.2 L907.5 682.5 L912.5 686.2 L907.5 692.5 L900 690 L892.5 696.2 L885 702.5 L877.5 703.8 L873.8 698.8Z"/>
<path d="M700 828 L702.5 832.5 L700 842.5 L696.2 855 L692.5 867.5 L686.2 877.5 L683.8 882.5 L680 875 L675 867.5 L671.2 858.8 L675 850 L681.2 840 L688.8 831.2 L696.2 827.5Z"/>
<path d="M483.8 926.2 L490 918.8 L500 914.5 L510 912.5 L518.8 913.8 L522.5 918.8 L518.8 925 L513.8 932.5 L507.5 938.8 L500 943 L491.2 941.2 L485 935Z"/>
<path d="M262.5 1150 L270 1151.2 L280 1157.5 L300 1157 L307.5 1163.8 L312.5 1173.8 L322.5 1181.2 L332.5 1190 L340 1198.8 L352.5 1207.5 L360 1211.2 L370 1217.5 L380 1225 L390 1232.5 L400 1238.8 L410 1262 L330 1262 L327.5 1240 L322.5 1227.5 L315 1215 L303.8 1201.2 L292.5 1190 L282.5 1181.2 L272.5 1172.5 L265 1162.5 L261.2 1155Z"/>
<path d="M-10 1081.2 L20 1087.5 L30 1102.5 L38.8 1117.5 L41.2 1127.5 L37.5 1137.5 L27.5 1143.8 L17.5 1146.2 L-10 1143.8Z"/>
<path d="M1872.5 238 L1882.5 258 L1890 258.8 L1897.5 238Z"/>
<path d="M1920 238 L1930 258 L1945 256.2 L1955 238 L1958.8 261.2 L1957.5 268.8 L1960 275 L1953.8 277.5 L1967.5 278 L1975 275 L1983.8 272 L2010 270 L2010 238Z"/>
<path d="M2010 312.5 L1982.5 317.5 L1975 321.2 L1965 321.2 L1955 325 L1947.5 330 L1937.5 335 L1925 337.5 L1915 341.2 L1908.8 345 L1910 347.5 L1920 345 L1930 342.5 L1940 338.8 L1947.5 335 L1957.5 331.2 L1967.5 327.5 L1977.5 326.2 L2010 325Z"/>
<path d="M489 1262 L487 1230 L492 1218 L499 1211 L506 1215 L516 1218 L524 1221 L523 1214 L526 1208 L527 1201 L534 1197 L544 1194 L554 1192 L562 1186 L568 1178 L572 1169 L578 1167 L584 1164 L592 1159 L600 1153 L606 1144 L612 1136 L617 1130 L621 1124 L625 1129 L628 1134 L633 1140 L637 1146 L642 1150 L650 1152 L656 1155 L652 1160 L644 1161 L640 1165 L648 1168 L644 1172 L638 1171 L632 1173 L628 1178 L632 1184 L628 1190 L632 1196 L637 1204 L640 1212 L646 1220 L653 1228 L644 1230 L636 1228 L637 1236 L632 1262Z"/>
<path d="M668 1262 L670 1234 L676 1228 L686 1222 L696 1224 L706 1228 L720 1228 L730 1228 L740 1224 L748 1218 L756 1214 L757 1220 L752 1226 L744 1232 L734 1236 L720 1238 L708 1235 L696 1233 L686 1230 L678 1234 L674 1262Z"/>
<path d="M794 1262 L792 1230 L796 1218 L802 1210 L806 1214 L804 1222 L810 1218 L816 1220 L812 1228 L810 1236 L816 1240 L812 1262Z"/>
<path d="M679.2 938.4 L683.2 936.4 L688 936.4 L692.8 938.4 L697.6 941.2 L702.4 943.2 L705.6 940.8 L704.8 938.4 L708 940 L708.8 942.4 L706.4 946.4 L705.6 951.2 L707.2 955.2 L710.4 958.4 L712 962.4 L710.4 966.4 L708.8 970.4 L708 974.4 L705.6 977.6 L703.2 978.8 L700 979.2 L696.8 981.6 L695.2 986.4 L692.8 991.2 L694.4 996 L696.8 1000 L697.6 1004 L697.2 1007.2 L700.8 1006.4 L704 1004.8 L708.8 1005.6 L713.6 1007.2 L718.4 1008 L721.6 1012 L724.8 1013.6 L728.8 1013.6 L732.8 1014.4 L736 1016 L738.4 1012.8 L740.8 1012 L743.2 1015.2 L742.4 1019.2 L739.2 1020 L736.8 1018.4 L734.4 1020 L732.8 1017.6 L728 1016.8 L723.2 1016 L720 1015.2 L716.8 1012 L712 1010.4 L708.8 1011.2 L706.4 1012.8 L702.4 1012 L699.2 1011.2 L696 1013.6 L692.8 1017.6 L688 1018.4 L684.8 1017.6 L681.6 1015.2 L680 1012 L679.2 1007.2 L678.4 1004.8 L676 1001.6 L672.8 999.2 L670.8 996 L669.2 990.4 L668.8 985.6 L666.4 981.6 L666 976.8 L668 973.6 L669.6 976 L672.8 979.2 L676 979.2 L675.2 975.2 L676 970.4 L676.8 964 L676 957.6 L676 952 L677.6 944.8Z"/>
<path d="M670.8 1043.2 L674.5 1044.2 L666.2 1053.8 L657.5 1065 L646.2 1080 L635 1093.8 L625 1106.2 L620.8 1113 L619.2 1110.8 L623.8 1103.8 L633 1092 L644.2 1078 L655.5 1063.2 L664.2 1052Z"/>
<path d="M755.8 1079.2 L761.7 1081.7 L768.3 1083.3 L771.7 1091.7 L775 1100 L777.5 1110 L779.2 1118.3 L777 1128.3 L774.7 1133.3 L773.3 1139.2 L771.7 1133.3 L770 1127.5 L765.8 1124.2 L762.5 1128.3 L761.3 1135 L764.2 1141.7 L762.5 1148.3 L759.2 1150.8 L755 1146.7 L748.3 1143.3 L741.7 1139.2 L737.5 1133.3 L735.8 1125 L736.7 1120 L731.7 1116.7 L726.7 1115 L722.5 1115.8 L716.7 1120 L710 1116.7 L706.7 1121.7 L703.3 1126.7 L701.7 1123.3 L705 1116.7 L711.7 1111.7 L720 1106.7 L728.3 1103.3 L735 1100 L740 1095 L745 1088.3 L750 1081.7Z"/>
<path d="M808 1204 L813 1201 L814 1207 L809 1211Z"/>
<path d="M1386.2 278.8 L1392.5 272.5 L1400 268.8 L1406.2 267.5 L1408 271.2 L1402.5 275 L1393.8 277.5 L1387 280.5Z"/>
<path d="M1425 331.2 L1431.2 332 L1439.5 340 L1437.5 342 L1430 337.5Z"/>
<path d="M1452.5 339.5 L1462.5 344.5 L1462 345.5 L1452 340.5Z"/>
<path d="M1090 522.5 L1096.2 515 L1105 510 L1107.5 512.5 L1100 517.5 L1092.5 523.8Z"/>
<path d="M1113.8 510 L1122.5 503.8 L1132.5 497.5 L1142.5 493 L1146.2 495 L1136.2 500 L1125 506.2 L1116.2 512Z"/>
<path d="M1156.2 491.2 L1165 485 L1172.5 481.2 L1173.8 483.8 L1165 488.8 L1157.5 493Z"/>
<path d="M1192.5 472.5 L1202.5 466.2 L1203.8 468 L1194.5 473.8Z"/>
<path d="M1251.2 415 L1257.5 411.2 L1265 406.2 L1270 405 L1272.5 407.5 L1267.5 412.5 L1260 416.2 L1253.8 419.5 L1251.2 418Z"/>
<path d="M1240 431.2 L1243.8 426.2 L1246.2 427.5 L1242.5 433.8Z"/>
<path d="M1228.8 440 L1233.8 437.5 L1232.5 441.2Z"/>
<path d="M1093.8 531.2 L1110 522.5 L1111.2 523.8 L1095 532.5Z"/>
<path d="M971.2 616.2 L975 612.5 L976.2 617.5 L972.5 620Z"/>
<path d="M821.2 680 L823.8 673 L826.2 672.5 L823.8 681.2Z"/>
<path d="M971.2 617.5 L975 612.5 L976.2 617.5 L972.5 620Z"/>
<path d="M885 647.5 L888.8 645.5 L889.5 648Z"/>
<path d="M223.8 1020 L226.2 1020 L226.2 1030 L223.8 1040 L221.2 1050 L218.8 1055 L217.5 1050 L220 1040 L221.2 1030Z"/>
<path d="M214.5 1066.2 L217.5 1065 L218 1068.8 L215 1069.5Z"/>
<path d="M236.2 1122.5 L238.8 1122 L241.2 1130 L238.8 1132.5Z"/>
<path d="M231.2 1109.5 L233.8 1108 L234.5 1112.5 L232 1113Z"/>
<path d="M293.8 1220 L300 1218.8 L306.2 1227.5 L305 1233.8 L298.8 1228.8Z"/>
<path d="M270 1196.2 L273.8 1195 L282.5 1202.5 L280 1205Z"/>
<path d="M317.5 1197.5 L321.2 1197 L325 1203.8 L322 1205Z"/>
<path d="M1838.8 372.5 L1847.5 365 L1855 362 L1862.5 363.8 L1870 360 L1875 355.5 L1885 355 L1890 352.5 L1900 350 L1897.5 353.8 L1885 358.8 L1875 362.5 L1865 365 L1855 365 L1847.5 370 L1840 373.8Z"/>
<path d="M1802.5 378 L1812.5 376.2 L1813 377.2 L1803 379Z"/>
<path d="M1821.2 373.8 L1830 370.5 L1830.5 371.8 L1822.5 375Z"/>
<path d="M1690 388.8 L1700 390 L1712.5 387.5 L1725 386.2 L1735 385 L1750 383 L1760 383.8 L1775 385 L1760 385.5 L1750 385 L1735 387 L1725 388.8 L1712.5 392.5 L1700 392Z"/>
<path d="M1672.5 398.8 L1680 390 L1681 391 L1673.8 399.5Z"/>
<path d="M1636.2 392.5 L1650 397 L1649.5 398.5 L1635.8 393.8Z"/>
<path d="M1613.8 388.8 L1621.2 385 L1621.8 386.5 L1614.5 390Z"/>
<path d="M1651.2 387 L1653.8 386 L1655.5 388 L1653 389.5Z"/>
<path d="M1536.2 370 L1545 369.5 L1551.2 373.8 L1543.8 374.5Z"/>
<path d="M1550 379.5 L1556.2 378.8 L1555.5 381.2Z"/>
<path d="M1781.2 381.2 L1786.2 380.5 L1785 383Z"/>
<path d="M1817.5 300 L1822.5 299.5 L1822 302Z"/>
<path d="M1828 310 L1833 309.5 L1832.5 312.5Z"/>
<path d="M1941.2 346.2 L1950 345.8 L1949.5 348 L1942 348Z"/>
<path d="M794.2 813.2 L796.2 811.2 L798.2 812 L796.8 814Z"/>
<path d="M799.2 807 L801.2 805 L803.2 805.8 L801.8 807.8Z"/>
<path d="M804.2 802 L806.2 800 L808.2 800.8 L806.8 802.8Z"/>
<path d="M815.5 787 L817.5 785 L819.5 785.8 L818 787.8Z"/>
<path d="M823 778.2 L825 776.2 L827 777 L825.5 779Z"/>
<path d="M828 775.8 L830 773.8 L832 774.5 L830.5 776.5Z"/>
<path d="M728 818.2 L730 816.2 L732 817 L730.5 819Z"/>
<path d="M731.8 843.2 L733.8 841.2 L735.8 842 L734.2 844Z"/>
<path d="M736.8 842 L738.8 840 L740.8 840.8 L739.2 842.8Z"/>
<path d="M755.5 835.8 L757.5 833.8 L759.5 834.5 L758 836.5Z"/>
<path d="M840.5 744.5 L842.5 742.5 L844.5 743.2 L843 745.2Z"/>
<path d="M848 740.8 L850 738.8 L852 739.5 L850.5 741.5Z"/>
<path d="M780.5 809.5 L782.5 807.5 L784.5 808.2 L783 810.2Z"/>
<path d="M699.2 903.2 L701.2 901.2 L703.2 902 L701.8 904Z"/>
<path d="M698 908.2 L700 906.2 L702 907 L700.5 909Z"/>
<path d="M676.5 1022.4 L680.8 1026.7 L684.4 1032.8 L687.5 1040.7 L690.5 1041.9 L694.2 1036.4 L694.8 1029.1 L690.5 1024.2 L684.4 1021.8 L676.5 1022.4Z"/>
<path d="M702.8 1029.7 L702.2 1038.9 L702.8 1043.8 L710.7 1051.1 L720.5 1054.8 L721.1 1059 L717.4 1063.3 L715 1068.2 L712.5 1068.8 L707.6 1068.2 L702.8 1071.2 L702.2 1057.2 L702.8 1043.8Z"/>
<path d="M717.4 1063.3 L721.1 1062.1 L727.2 1063.3 L729 1067 L726 1075.5 L724.1 1085.3 L721.1 1090.2 L716.8 1088.4 L712.5 1085.3 L710.7 1080.4 L715 1078 L717.4 1071.9 L716.8 1067Z"/>
<path d="M735.1 1059 L732.1 1069.4 L727.2 1080.4 L724.1 1085.9 L728.4 1081.6 L733.9 1070.6 L736.4 1060.3Z"/>
<path d="M704 1035.2 L711.9 1038.3 L713.8 1040.1 L708.9 1038.9 L704 1036.4Z"/>
<path d="M741.2 1036.4 L753.5 1035.8 L757.7 1038.9 L760.8 1043.8 L755.3 1051.1 L750.4 1051.7 L745.5 1045 L741.9 1040.1Z"/>
<path d="M742.5 1051.1 L746.7 1057.2 L745.5 1068.2 L741.9 1068.8 L741.2 1060.3Z"/>
<path d="M735.1 1081.6 L741.2 1077.4 L745.5 1078.6 L744.9 1083.5 L738.2 1085.3Z"/>
<path d="M701.5 996.1 L704.6 998.6 L702.8 1002.2 L700.9 999.2 L701.5 996.1Z"/>
<path d="M701.5 1019.3 L704.6 1020.5 L704 1024.8 L700.9 1024.2 L701.5 1019.3Z"/>
<path d="M666.7 1045 L669.8 1042.5 L673.4 1045 L671 1048.6 L667.9 1048Z"/>
<path d="M401.2 391.2 L410 390 L425 386.2 L440 378.8 L455 370 L470 360 L482.5 347.5 L490 335 L495 326.2 L500 325 L503.8 323.8 L505.5 326.2 L503.8 333.8 L501.2 340 L497.5 346.2 L491.2 355.5 L482.5 363.8 L470 371.2 L457.5 377.5 L445 383.8 L435 389.5 L422.5 393.8 L410 395 L403 393.2Z"/>
<path d="M1005.3 544.7 L1012 542 L1017.3 544.7 L1014.7 548.7 L1018.7 552.7 L1014.7 555.3 L1009.3 551.3 L1006 548.7Z"/>
<path d="M212.5 412.5 L217.5 408 L225 408.8 L230 413.8 L226.2 418.8 L217.5 420Z"/>
<path d="M343 410 L345 397.5 L348.8 392.5 L352.5 395 L351.2 405 L347.5 412Z"/>
<path d="M32.5 480 L40 477.5 L46.2 483.8 L45 490 L37.5 487.5Z"/>
<path d="M102.5 440 L106.2 438.2 L110 440 L106.2 442Z"/>
<path d="M61.2 448.8 L85 453.8 L83.8 457.5 L60 452Z"/>
<path d="M222.5 431.2 L237.5 432.5 L233.8 437.5 L225 435.5Z"/>
<path d="M208.8 455 L213.8 447.5 L221.2 447.5 L217.5 453.8 L212.5 456.2Z"/>
<path d="M621.2 440 L630 430.5 L633.8 433.8 L624.5 443.8Z"/>
<path d="M629.5 455 L633.8 452.5 L635 456.2 L631.2 458.8Z"/>
<path d="M867.5 500 L872.5 496.2 L878.8 497.5 L881.2 502.5 L877.5 508.8 L871.2 509.5 L868 505Z"/>
<path d="M335 633.8 L340 629.5 L347.5 631.2 L353 636.2 L352 641.2 L345 640.5 L337.5 638.8Z"/>
<path d="M179.5 736.2 L187.5 733.8 L193 735.5 L190 739.5 L182.5 741.2Z"/>
<path d="M160 624.5 L166.2 623 L170 625.5 L165 627.5Z"/>
<path d="M98.8 732.5 L105 731.2 L107.5 735 L101.2 736.2Z"/>
<path d="M670 727.5 L675 724.5 L678.8 728 L676.2 732.5 L671.2 732Z"/>
<path d="M402 1026.2 L406.2 1025 L415 1036.2 L412.5 1038 L406.2 1032.5Z"/>
<path d="M771.2 693.8 L775 691.8 L781.2 690.8 L785 692.5 L782 695.5 L775 696.5Z"/>
<path d="M61.2 448.8 L67.5 443.8 L71.2 437.5 L77.5 440 L82.5 433.8 L75 430 L72.5 425 L67.5 426.2"/>
<path d="M361.2 321.2 L370 318.8 L380 315 L388.8 317.5 L393.8 327.5 L395 340 L393.8 350 L397.5 357.5 L396.2 367.5"/>
<path d="M367.5 322.5 L372.5 328.8 L370 333.8 L377.5 335"/>
<path d="M387.5 357.5 L402.5 361.2"/>
<path d="M377.5 302.5 L381.2 292.5 L385 288.8 L386.2 297.5 L400 303.8 L392.5 298.8 L396.2 293.8"/>
<path d="M200 357.5 L192.5 345 L191.2 338.8 L200 336.2 L212.5 333 L217.5 330"/>
<path d="M31.2 355 L45 347.5 L57.5 341.2 L64.5 340.8"/>
<path d="M135 390.8 L138.8 397.5"/>
<path d="M178.8 571.2 L182.5 582"/>
<path d="M122.5 553.8 L132.5 552.5 L125 550 L122.5 553.8"/>
<path d="M787.5 343.8 L795 346.2 L786.2 350 L797.5 350 L790 357 L803.8 346.2 L810 343.8 L822.5 342"/>
<path d="M936.2 426.2 L947.5 419.5 L957.5 414.5"/>
<path d="M947.5 338.8 L960 335 L970 336.2 L965 342.5 L957.5 350 L953.8 355"/>
<path d="M635 697.5 L645 693.8 L650 697.5 L640 700 L655 697.5 L658.8 702.5"/>
<path d="M665 712.5 L675 716.2 L685 718.8 L695 722.5 L700 725"/>
<path d="M572.5 750 L580 742.5 L582.5 737.5 L585 746.2"/>
<path d="M605 752.5 L612.5 746.2 L607.5 755 L605 762.5 L612.5 766.2 L607.5 773.8"/>
<path d="M538.8 766.2 L547.5 765 L553.8 760"/>
<path d="M523.8 703.8 L531.2 702.5 L528.8 707.5"/>
<path d="M648.8 755 L656.2 757.5"/>
<path d="M625 722.5 L635 724.5"/>
<path d="M171.2 692.5 L177.5 690 L182.5 692.5 L175 695"/>
<path d="M152.5 720 L160 717.5 L163.8 722.5 L156.2 725"/>
<path d="M182.5 765 L190 766.2 L185 770 L180 772.5"/>
<path d="M292.5 667.5 L298.8 666.2 L305 668 L298.8 669.5"/>
<path d="M58 722.5 L65.5 725"/>
<path d="M66.2 886.2 L76.2 887"/>
<path d="M670.4 1014.4 L673.4 1017.5 L676.5 1021.8"/>
<path d="M684.4 1018.7 L694.2 1017.5 L697.9 1013.2 L702.8 1013.2 L707.6 1011.4 L711.9 1014.4 L715 1019.3 L721.1 1024.2 L727.2 1029.1 L733.3 1029.1 L736.4 1034 L738.8 1038.9 L741.2 1036.4"/>
<path d="M699.1 1007.1 L706.4 1011.4 L711.9 1007.7 L718.6 1008.3 L721.7 1015.7 L727.2 1013.2 L733.3 1014.4 L738.2 1019.3 L742.5 1018.7 L743.7 1014.4 L739.4 1012 L737 1014.4"/>
<path d="M710.7 1017.5 L713.8 1021.8 L713.1 1025.4 L711.3 1021.8"/>
<path d="M723.5 1036.4 L730.3 1035.2 L733.3 1040.1 L728.4 1042.5 L732.1 1046.2 L736.4 1048.6"/>
<path d="M736.4 1027.9 L738.8 1032.8 L739.4 1038.9 L741.9 1045 L743.1 1051.1"/>
<path d="M744.3 1063.3 L741.9 1068.2 L744.3 1073.1 L745.5 1076.7"/>
<path d="M757.1 1063.3 L760.2 1071.2 L762.6 1078.6 L761.4 1085.3 L763.8 1089 L767.5 1085.3 L770 1080.4 L768.1 1087.7 L771.8 1093.8 L774.8 1100"/>
<path d="M750.4 1051.1 L754.1 1056 L757.7 1060.9"/>
<path d="M661.8 1057.2 L664.9 1060.3 L663.1 1064.5 L667.3 1068.2 L665.5 1070.6"/>
<path d="M187 616 L188.4 615 L190.5 615.6 L189.3 616.5 L187 616"/>
<path d="M148.2 632.7 L149.7 631.8 L151.8 632.4 L150.5 633.2 L148.2 632.7"/>
<path d="M163.2 645.2 L164.7 644.2 L166.8 644.9 L165.5 645.8 L163.2 645.2"/>
<path d="M177 654.5 L178.4 653.5 L180.5 654.1 L179.3 655 L177 654.5"/>
<path d="M192 657 L193.4 656 L195.5 656.6 L194.3 657.5 L192 657"/>
<path d="M205.8 657.7 L207.2 656.8 L209.2 657.4 L208 658.2 L205.8 657.7"/>
<path d="M219.5 654 L220.9 653 L223 653.6 L221.8 654.5 L219.5 654"/>
<path d="M162 662.2 L163.4 661.2 L165.5 661.9 L164.3 662.8 L162 662.2"/>
<path d="M179.5 663.5 L180.9 662.5 L183 663.1 L181.8 664 L179.5 663.5"/>
<path d="M208.2 663.5 L209.7 662.5 L211.8 663.1 L210.5 664 L208.2 663.5"/>
<path d="M182 670.2 L183.4 669.2 L185.5 669.9 L184.3 670.8 L182 670.2"/>
<path d="M158.2 674.5 L159.7 673.5 L161.8 674.1 L160.5 675 L158.2 674.5"/>
<path d="M128.2 673.5 L129.7 672.5 L131.8 673.1 L130.5 674 L128.2 673.5"/>
<path d="M193.2 685.2 L194.7 684.2 L196.8 684.9 L195.5 685.8 L193.2 685.2"/>
<path d="M173.2 709 L174.7 708 L176.8 708.6 L175.5 709.5 L173.2 709"/>
<path d="M133.2 717.7 L134.7 716.8 L136.8 717.4 L135.5 718.2 L133.2 717.7"/>
<path d="M142 721.5 L143.4 720.5 L145.5 721.1 L144.3 722 L142 721.5"/>
<path d="M145.8 730.2 L147.2 729.2 L149.2 729.9 L148 730.8 L145.8 730.2"/>
<path d="M188.2 715.2 L189.7 714.2 L191.8 714.9 L190.5 715.8 L188.2 715.2"/>
<path d="M198.2 716.5 L199.7 715.5 L201.8 716.1 L200.5 717 L198.2 716.5"/>
<path d="M183.2 730.2 L184.7 729.2 L186.8 729.9 L185.5 730.8 L183.2 730.2"/>
<path d="M75.8 729 L77.2 728 L79.2 728.6 L78 729.5 L75.8 729"/>
<path d="M67 735.2 L68.4 734.2 L70.5 734.9 L69.3 735.8 L67 735.2"/>
<path d="M75.8 742.7 L77.2 741.8 L79.2 742.4 L78 743.2 L75.8 742.7"/>
<path d="M88.2 745.2 L89.7 744.2 L91.8 744.9 L90.5 745.8 L88.2 745.2"/>
<path d="M114.5 745.2 L115.9 744.2 L118 744.9 L116.8 745.8 L114.5 745.2"/>
<path d="M103.2 752.2 L104.7 751.2 L106.8 751.9 L105.5 752.8 L103.2 752.2"/>
<path d="M118.2 730.2 L119.7 729.2 L121.8 729.9 L120.5 730.8 L118.2 730.2"/>
<path d="M113.2 737.7 L114.7 736.8 L116.8 737.4 L115.5 738.2 L113.2 737.7"/>
<path d="M127 732 L128.4 731 L130.5 731.6 L129.3 732.5 L127 732"/>
<path d="M27 666.5 L28.4 665.5 L30.5 666.1 L29.3 667 L27 666.5"/>
<path d="M34.5 682.7 L35.9 681.8 L38 682.4 L36.8 683.2 L34.5 682.7"/>
<path d="M47 680.2 L48.4 679.2 L50.5 679.9 L49.3 680.8 L47 680.2"/>
<path d="M30.8 737.7 L32.1 736.8 L34.2 737.4 L33 738.2 L30.8 737.7"/>
<path d="M258.2 634 L259.6 633 L261.8 633.6 L260.5 634.5 L258.2 634"/>
<path d="M606 650.8 L607.2 649.5 L609 650.3 L608 651.5 L606 650.8"/>
<path d="M622.2 673.3 L623.5 672 L625.2 672.8 L624.2 674 L622.2 673.3"/>
<path d="M638.5 682.3 L639.7 681 L641.5 681.8 L640.5 683 L638.5 682.3"/>
<path d="M546 694 L547.2 692.8 L549 693.5 L548 694.8 L546 694"/>
<path d="M573.5 699.8 L574.7 698.5 L576.5 699.3 L575.5 700.5 L573.5 699.8"/>
<path d="M616 710.3 L617.2 709 L619 709.8 L618 711 L616 710.3"/>
<path d="M628.5 723.3 L629.7 722 L631.5 722.8 L630.5 724 L628.5 723.3"/>
<path d="M649.8 725.3 L651 724 L652.8 724.8 L651.7 726 L649.8 725.3"/>
<path d="M651 730.8 L652.2 729.5 L654 730.3 L653 731.5 L651 730.8"/>
<path d="M578.5 850.3 L579.7 849 L581.5 849.8 L580.5 851 L578.5 850.3"/>
<path d="M558.5 752.8 L559.7 751.5 L561.5 752.3 L560.5 753.5 L558.5 752.8"/>
<path d="M524.8 323.2 L526 322.4 L527.8 322.9 L526.7 323.6 L524.8 323.2"/>
<path d="M542.2 340.2 L543.5 339.4 L545.2 339.9 L544.2 340.6 L542.2 340.2"/>
<path d="M553.5 334.7 L554.7 333.9 L556.5 334.4 L555.5 335.1 L553.5 334.7"/>
<path d="M563.5 331.7 L564.7 330.9 L566.5 331.4 L565.5 332.1 L563.5 331.7"/>
<path d="M536 371.4 L537.2 370.6 L539 371.1 L538 371.9 L536 371.4"/>
<path d="M528.5 377.2 L529.7 376.4 L531.5 376.9 L530.5 377.6 L528.5 377.2"/>
<path d="M551 383.2 L552.2 382.4 L554 382.9 L553 383.6 L551 383.2"/>
<path d="M608.5 412.2 L609.7 411.4 L611.5 411.9 L610.5 412.6 L608.5 412.2"/>
<path d="M748.5 280.2 L749.7 279.4 L751.5 279.9 L750.5 280.6 L748.5 280.2"/>
<path d="M733.5 284.7 L734.7 283.9 L736.5 284.4 L735.5 285.1 L733.5 284.7"/>
<path d="M166 327.7 L167.2 326.9 L169 327.4 L167.9 328.1 L166 327.7"/>
<path d="M12.2 328.9 L13.4 328.1 L15.2 328.6 L14.2 329.4 L12.2 328.9"/>
<path d="M31 378.9 L32.2 378.1 L34 378.6 L33 379.4 L31 378.9"/>
<path d="M191 416.4 L192.2 415.6 L194 416.1 L192.9 416.9 L191 416.4"/>
<path d="M183.5 428.9 L184.7 428.1 L186.5 428.6 L185.4 429.4 L183.5 428.9"/>
<path d="M149.8 443.9 L150.9 443.1 L152.8 443.6 L151.7 444.4 L149.8 443.9"/>
<path d="M294.8 438.9 L295.9 438.1 L297.8 438.6 L296.7 439.4 L294.8 438.9"/>
<path d="M323.5 432.7 L324.7 431.9 L326.5 432.4 L325.4 433.1 L323.5 432.7"/>
<path d="M328.5 397.2 L329.7 396.4 L331.5 396.9 L330.4 397.6 L328.5 397.2"/>
<path d="M444.8 400.2 L445.9 399.4 L447.8 399.9 L446.7 400.6 L444.8 400.2"/>
<path d="M363.7 1213.3 L365.7 1210.1 L368.6 1212.1 L366.9 1215 L363.7 1213.3"/>
<path d="M376.4 1221.5 L378.3 1218.4 L381.2 1220.3 L379.5 1223.2 L376.4 1221.5"/>
<path d="M377.5 1227 L379.4 1223.9 L382.3 1225.8 L380.6 1228.7 L377.5 1227"/>
<path d="M386.3 1228.1 L388.2 1225 L391.1 1226.9 L389.4 1229.8 L386.3 1228.1"/>
<path d="M381 1239.5 L392 1234 L397.5 1226.3 L395.3 1231.8 L400.8 1236.2"/>
<path d="M403 1226.3 L407.4 1230.7 L411.8 1226.3 L416.2 1229.6 L414 1223 L408.5 1224.1"/>
<path d="M411.8 1239.5 L416.2 1242.8 L414 1237.3"/>
<path d="M317.2 1196.6 L321.6 1195.5 L326 1202.1 L323.8 1205.4 L319.4 1203.2 L317.2 1196.6"/>
<path d="M334.8 1133.9 L337 1139.4 L339.2 1137.2"/>
<path d="M768.8 665 L772.5 668.8 L770 673.8 L775 672.5 L776.2 677.5 L781.2 674.5 L785 677 L790 673 L795 675 L800 671.2 L806.2 670.5 L811.2 667.5"/>
<path d="M771.2 630 L775 633.8 L772.5 638.8 L776.2 642.5 L773.8 647.5 L777.5 651.2"/>
<path d="M812.5 703.8 L816.2 700 L820 697.5 L822.5 695.5"/>
<path d="M830 697.5 L833.8 702.5 L831.2 706.2 L836.2 710 L835 715 L840 713.8 L841.2 705 L837.5 700"/>
<path d="M870 680 L880 678.8 L890 677.5 L900 675.5 L910 675"/>
<path d="M702.5 760 L698.8 763.8 L701.2 767.5 L696.2 771.2 L697.5 777.5 L691.2 780 L692.5 785 L686.2 787.5 L687.5 792.5 L681.2 795 L680 801.2 L675 802.5 L675 807.5 L668.8 810 L670 815 L663.8 817.5 L665 823.8 L658.8 826.2 L656.2 830"/>
<path d="M640 840 L636.2 845 L630 846.2 L627.5 851.2 L620 853.8 L617.5 857.5 L610 860 L606.2 865 L598.8 866.2 L595 870 L586.2 868.8 L582.5 872.5 L575 871.2 L572.5 876.2 L566.2 875 L562.5 880 L556.2 880 L551.2 885"/>
<path d="M141.2 876.2 L143.8 883.8 L147.5 878.8 L151.2 886.2 L155 880 L160 886.2 L163.8 878.8 L168.8 885 L172.5 878.8 L177.5 882.5 L181.2 876.2 L186.2 880 L185 857.5 L186.2 870 L190 876.2 L195 872.5"/>
<path d="M246.2 978.8 L250 976.2 L252.5 982.5 L256.2 977.5 L258.8 983 L262.5 978.8 L265 983.8"/>
<path d="M440 1082.5 L445 1076.2 L448.8 1080 L452.5 1072.5 L455 1076.2"/>
<path d="M222.5 905 L226.2 912.5 L230 915 L233.8 922.5 L237.5 925 L236.2 933.8 L241.2 936.2"/>
<path d="M220 905 L223.8 912.5 L228.8 913.8 L231.2 921.2 L236.2 923.8 L237.5 932.5"/>
<path d="M450 900 L457.5 897.5 L462.5 892.5 L470 893.8 L476.2 888.8"/>
<path d="M871.2 679.2 L876 681.6 L880.8 679.2 L884.8 682.4 L888.8 679.2 L893.6 681.6 L893.6 684.8 L888 684.8"/>
<path d="M900 676 L906.4 674.4 L911.2 676.8 L916 675.2 L919.2 679.2 L915.2 681.6"/>
<path d="M852 684.8 L858.4 687.2 L863.2 689.6 L868 692 L872.8 690.4"/>
</g></defs>
<g fill="none" stroke="#1a1408" stroke-linejoin="round" stroke-linecap="round">
<use href="#cst" stroke-width="2.3" stroke-opacity="0.2"/>
<use href="#cst" stroke-width="1.15" stroke-opacity="0.85"/>
</g>
<g fill="#111">
<circle cx="755" cy="672.5" r="0.9"/>
<circle cx="760" cy="678.8" r="0.9"/>
<circle cx="768.8" cy="665" r="0.9"/>
<circle cx="771.2" cy="655" r="0.9"/>
<circle cx="773.8" cy="642.5" r="0.9"/>
<circle cx="775" cy="633.8" r="0.9"/>
<circle cx="782.5" cy="678.8" r="0.9"/>
<circle cx="790" cy="678.8" r="0.9"/>
<circle cx="795" cy="675" r="0.9"/>
<circle cx="803.8" cy="671.2" r="0.9"/>
<circle cx="810" cy="668.8" r="0.9"/>
<circle cx="850" cy="625" r="0.9"/>
<circle cx="812.5" cy="705" r="0.9"/>
<circle cx="817.5" cy="702.5" r="0.9"/>
<circle cx="832.5" cy="720" r="0.9"/>
<circle cx="837.5" cy="735" r="0.9"/>
<circle cx="827.5" cy="730" r="0.9"/>
<circle cx="830" cy="752.5" r="0.9"/>
<circle cx="825" cy="762.5" r="0.9"/>
<circle cx="810" cy="792.5" r="0.9"/>
<circle cx="797.5" cy="812.5" r="0.9"/>
<circle cx="710" cy="740" r="0.9"/>
<circle cx="712.5" cy="743.8" r="0.9"/>
<circle cx="705" cy="752.5" r="0.9"/>
<circle cx="660" cy="855" r="0.9"/>
<circle cx="662.5" cy="858.8" r="0.9"/>
<circle cx="695" cy="880" r="0.9"/>
<circle cx="697.5" cy="927.5" r="0.9"/>
<circle cx="692.5" cy="930" r="0.9"/>
<circle cx="856.2" cy="816.2" r="0.9"/>
<circle cx="986.2" cy="677.5" r="0.9"/>
<circle cx="993.8" cy="685" r="0.9"/>
<circle cx="996.2" cy="697.5" r="0.9"/>
<circle cx="887.5" cy="647" r="0.9"/>
<circle cx="986.2" cy="677.5" r="0.9"/>
<circle cx="990" cy="670" r="0.9"/>
<circle cx="992.5" cy="682.5" r="0.9"/>
<circle cx="996.2" cy="697.5" r="0.9"/>
<circle cx="995.8" cy="708.8" r="0.9"/>
<circle cx="1000" cy="725" r="0.9"/>
<circle cx="1005" cy="741.2" r="0.9"/>
<circle cx="1035" cy="786.2" r="0.9"/>
<circle cx="1036.2" cy="796.2" r="0.9"/>
<circle cx="1035.8" cy="803.8" r="0.9"/>
<circle cx="1013.8" cy="794.5" r="0.9"/>
<circle cx="1020.8" cy="824.5" r="0.9"/>
<circle cx="1021.8" cy="835.5" r="0.9"/>
<circle cx="990" cy="547.5" r="0.9"/>
<circle cx="989.5" cy="559.5" r="0.9"/>
<circle cx="996.2" cy="561.2" r="0.9"/>
<circle cx="1017" cy="495.5" r="0.9"/>
<circle cx="1021.2" cy="499.5" r="0.9"/>
<circle cx="1022" cy="511.2" r="0.9"/>
<circle cx="987.5" cy="610" r="0.9"/>
<circle cx="992.5" cy="597.5" r="0.9"/>
<circle cx="996.2" cy="586.2" r="0.9"/>
<circle cx="306.2" cy="1030" r="0.9"/>
<circle cx="308.8" cy="1040" r="0.9"/>
<circle cx="311.2" cy="1050" r="0.9"/>
<circle cx="307.5" cy="1060" r="0.9"/>
<circle cx="310" cy="1070" r="0.9"/>
<circle cx="306.2" cy="1080" r="0.9"/>
<circle cx="312.5" cy="1040" r="0.9"/>
<circle cx="315" cy="1052.5" r="0.9"/>
<circle cx="303.8" cy="1045" r="0.9"/>
<circle cx="298.8" cy="1048.8" r="0.9"/>
<circle cx="236.2" cy="998.8" r="0.9"/>
<circle cx="230" cy="1012.5" r="0.9"/>
<circle cx="246.2" cy="1022" r="0.9"/>
<circle cx="238.8" cy="1042" r="0.9"/>
<circle cx="221.2" cy="1092" r="0.9"/>
<circle cx="226.2" cy="1106.2" r="0.9"/>
<circle cx="328.8" cy="1136.2" r="0.9"/>
<circle cx="336.2" cy="1137.5" r="0.9"/>
<circle cx="345" cy="1155" r="0.9"/>
<circle cx="410" cy="1197.5" r="0.9"/>
<circle cx="415" cy="1202.5" r="0.9"/>
<circle cx="435" cy="1193.8" r="0.9"/>
<circle cx="442.5" cy="1190" r="0.9"/>
<circle cx="475" cy="1177.5" r="0.9"/>
<circle cx="397.5" cy="1090" r="0.9"/>
<circle cx="415" cy="1082.5" r="0.9"/>
<circle cx="450" cy="1100" r="0.9"/>
<circle cx="486.2" cy="1195" r="0.9"/>
<circle cx="488.8" cy="1202.5" r="0.9"/>
<circle cx="1087" cy="913" r="0.9"/>
<circle cx="1092.6" cy="936" r="0.9"/>
<circle cx="1094" cy="955.5" r="0.9"/>
<circle cx="1092.6" cy="972" r="0.9"/>
<circle cx="1094" cy="995" r="0.9"/>
<circle cx="1087" cy="1009" r="0.9"/>
<circle cx="1078.6" cy="1022" r="0.9"/>
<circle cx="1076" cy="1024.5" r="0.9"/>
<circle cx="1300" cy="1130" r="0.9"/>
<circle cx="1379" cy="1156" r="0.9"/>
<circle cx="1236" cy="1109" r="0.9"/>
<circle cx="1193.6" cy="1121" r="0.9"/>
<circle cx="1519" cy="1127" r="0.9"/>
<circle cx="1544" cy="1214" r="0.9"/>
<circle cx="1545" cy="1228" r="0.9"/>
<circle cx="1488" cy="1145" r="0.9"/>
<circle cx="1727" cy="785.5" r="0.9"/>
<circle cx="1886.6" cy="851.7" r="0.9"/>
<circle cx="1986.5" cy="882.5" r="0.9"/>
<circle cx="1035" cy="795.5" r="0.9"/>
</g>
<g stroke="#46320f" stroke-opacity="0.21" stroke-width="3" fill="none">
<path d="M340.5 255V1244"/>
<path d="M670.25 255V1244"/>
<path d="M1000 255V1244"/>
<path d="M1329.75 255V1244"/>
<path d="M1659.5 255V1244"/>
<path d="M1989.25 255V1244"/>
<path d="M11 255.2H1989"/>
<path d="M11 420H1989"/>
<path d="M11 584.8H1989"/>
<path d="M11 749.6H1989"/>
<path d="M11 914.3H1989"/>
<path d="M11 1079.1H1989"/>
</g>
</g></g>
<text x="1000" y="1387.5" font-size="22.4" text-anchor="middle" fill="#000">Tropical cyclone strike probability (%)</text>
<rect x="500" y="1428" width="100" height="44" fill="#ff00ff"/>
<rect x="600" y="1428" width="100" height="44" fill="#ff5000"/>
<rect x="700" y="1428" width="100" height="44" fill="#ffaa00"/>
<rect x="800" y="1428" width="100" height="44" fill="#ffff00"/>
<rect x="900" y="1428" width="100" height="44" fill="#22ff00"/>
<rect x="1000" y="1428" width="100" height="44" fill="#008c30"/>
<rect x="1100" y="1428" width="100" height="44" fill="#00ffff"/>
<rect x="1200" y="1428" width="100" height="44" fill="#0080ff"/>
<rect x="1300" y="1428" width="100" height="44" fill="#0000ff"/>
<rect x="1400" y="1428" width="100" height="44" fill="#7d14b4"/>
<g font-size="16" fill="#000" text-anchor="middle">
<text x="500" y="1417">5</text>
<text x="600" y="1417">10</text>
<text x="700" y="1417">20</text>
<text x="800" y="1417">30</text>
<text x="900" y="1417">40</text>
<text x="1000" y="1417">50</text>
<text x="1100" y="1417">60</text>
<text x="1200" y="1417">70</text>
<text x="1300" y="1417">80</text>
<text x="1400" y="1417">90</text>
</g>
<text x="1487.5" y="1417" font-size="16" fill="#000">100%</text>
<g font-size="16.8" fill="#4a4a4a">
<text x="39" y="1663">© 2025 European Centre for Medium-Range Weather Forecasts (ECMWF)</text>
<text x="39" y="1683">Source: www.ecmwf.int</text>
<text x="39" y="1703">Licence: CC BY 4.0 and ECMWF Terms of Use (https://apps.ecmwf.int/datasets/licences/general/)</text>
<text x="39" y="1723">Created at 2025-12-06T21:00:04.698Z</text>
</g>
<g>
<circle cx="1622.6" cy="1688.5" r="31.5" fill="#0069a2"/>
<circle cx="1648.1" cy="1688.5" r="31.5" fill="#0069a2"/>
<rect x="1588" y="1682.2" width="95" height="12.6" fill="#fff"/>
<circle cx="1622.9" cy="1688.5" r="14.1" fill="#fff"/>
<circle cx="1648.4" cy="1688.5" r="14.1" fill="#fff"/>
<rect x="1591.1" y="1685.1" width="26.8" height="6.7" fill="#0069a2"/>
<text y="1715.3" font-size="77" font-weight="bold" fill="#0069a2"><tspan x="1686.9" textLength="48.6" lengthAdjust="spacingAndGlyphs">E</tspan><tspan x="1731.2" textLength="56.3" lengthAdjust="spacingAndGlyphs">C</tspan><tspan x="1783.4" textLength="68.6" lengthAdjust="spacingAndGlyphs">M</tspan><tspan x="1849.5" textLength="71.5" lengthAdjust="spacingAndGlyphs">W</tspan><tspan x="1917.7" textLength="46.2" lengthAdjust="spacingAndGlyphs">F</tspan></text>
</g>

</svg></body></html>
